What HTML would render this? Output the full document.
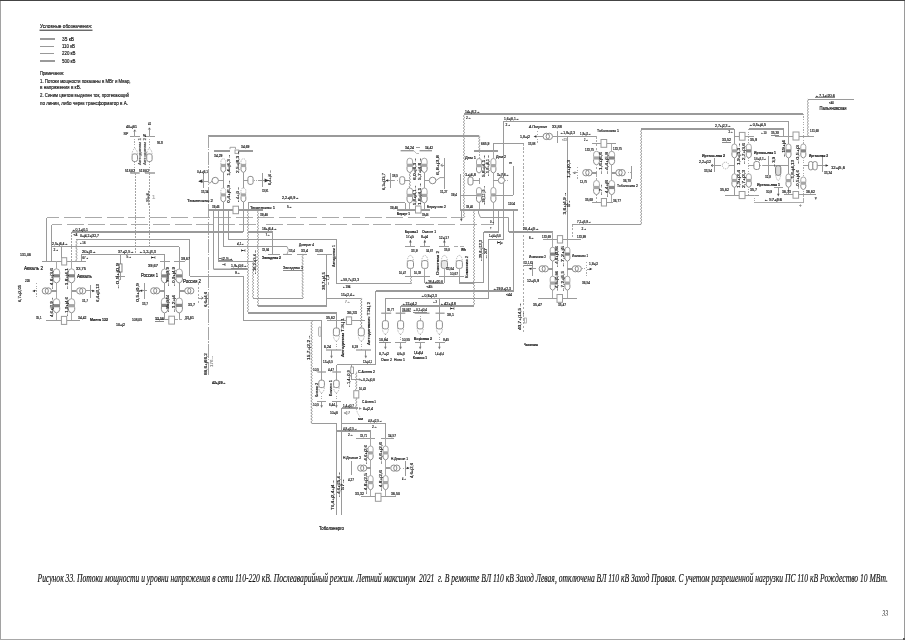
<!DOCTYPE html>
<html><head><meta charset="utf-8"><title>Рисунок 33</title>
<style>
html,body{margin:0;padding:0;background:#fff;}
body{width:905px;height:640px;overflow:hidden;font-family:"Liberation Sans",sans-serif;}
svg{display:block;filter:grayscale(100%);}
text{white-space:pre;}
</style></head><body>
<svg width="905" height="640" viewBox="0 0 905 640">
<rect x="0" y="0" width="905" height="640" fill="#fff"/>
<text x="40.00" y="28.40" font-size="5.2" fill="#1a1a1a" font-family="Liberation Sans, sans-serif" textLength="52.0" lengthAdjust="spacingAndGlyphs" stroke="#1a1a1a" stroke-width="0.18">Условные обозначения:</text>
<rect x="39.5" y="29.6" width="53" height="1.3" fill="#5a5a5a"/>
<line x1="40.00" y1="39.00" x2="55.00" y2="39.00" stroke="#9a9a9a" stroke-width="2" shape-rendering="crispEdges"/>
<text x="62.00" y="40.80" font-size="5" fill="#1a1a1a" font-family="Liberation Sans, sans-serif" textLength="12.0" lengthAdjust="spacingAndGlyphs" stroke="#1a1a1a" stroke-width="0.18">35 кВ</text>
<line x1="40.00" y1="46.50" x2="54.00" y2="46.50" stroke="#999" stroke-width="1" shape-rendering="crispEdges"/>
<text x="62.00" y="48.00" font-size="5" fill="#1a1a1a" font-family="Liberation Sans, sans-serif" textLength="13.0" lengthAdjust="spacingAndGlyphs" stroke="#1a1a1a" stroke-width="0.18">110 кВ</text>
<line x1="40.00" y1="53.50" x2="54.00" y2="53.50" stroke="#999" stroke-width="1" shape-rendering="crispEdges"/>
<text x="62.00" y="55.20" font-size="5" fill="#1a1a1a" font-family="Liberation Sans, sans-serif" textLength="13.5" lengthAdjust="spacingAndGlyphs" stroke="#1a1a1a" stroke-width="0.18">220 кВ</text>
<line x1="40.00" y1="61.00" x2="55.00" y2="61.00" stroke="#9a9a9a" stroke-width="2" shape-rendering="crispEdges"/>
<text x="62.00" y="62.50" font-size="5" fill="#1a1a1a" font-family="Liberation Sans, sans-serif" textLength="13.5" lengthAdjust="spacingAndGlyphs" stroke="#1a1a1a" stroke-width="0.18">500 кВ</text>
<text x="40.00" y="75.20" font-size="5" fill="#1a1a1a" font-family="Liberation Sans, sans-serif" textLength="24.0" lengthAdjust="spacingAndGlyphs" stroke="#1a1a1a" stroke-width="0.18">Примечания:</text>
<text x="40.00" y="82.50" font-size="5" fill="#1a1a1a" font-family="Liberation Sans, sans-serif" textLength="90.5" lengthAdjust="spacingAndGlyphs" stroke="#1a1a1a" stroke-width="0.18">1. Потоки мощности показаны в МВт и Мвар,</text>
<text x="40.00" y="89.40" font-size="5" fill="#1a1a1a" font-family="Liberation Sans, sans-serif" textLength="41.0" lengthAdjust="spacingAndGlyphs" stroke="#1a1a1a" stroke-width="0.18">в напряжения в кВ.</text>
<text x="40.00" y="96.80" font-size="5" fill="#1a1a1a" font-family="Liberation Sans, sans-serif" textLength="89.0" lengthAdjust="spacingAndGlyphs" stroke="#1a1a1a" stroke-width="0.18">2. Синим цветом выделен ток, протекающий</text>
<text x="40.00" y="105.00" font-size="5" fill="#1a1a1a" font-family="Liberation Sans, sans-serif" textLength="88.0" lengthAdjust="spacingAndGlyphs" stroke="#1a1a1a" stroke-width="0.18">по линии, либо через трансформатор в А.</text>
<text stroke="#111" stroke-width="0.18" x="37.50" y="581.60" font-size="13" fill="#111" font-family="Liberation Serif, sans-serif" textLength="850.5" lengthAdjust="spacingAndGlyphs" font-style="italic">Рисунок 33. Потоки мощности и уровни напряжения в сети 110-220 кВ. Послеаварийный режим. Летний максимум  2021  г. В ремонте ВЛ 110 кВ Заход Левая, отключена ВЛ 110 кВ Заход Правая. С учетом разрешенной нагрузки ПС 110 кВ Рождество 10 МВт.</text>
<text x="882.30" y="615.90" font-size="8.5" fill="#111" font-family="Liberation Serif, sans-serif" textLength="5.8" lengthAdjust="spacingAndGlyphs" font-style="italic">33</text>
<line x1="46.50" y1="217.50" x2="464.00" y2="217.50" stroke="#aaaaaa" stroke-width="1" stroke-dasharray="17 4.53" stroke-dashoffset="4.5" shape-rendering="crispEdges"/>
<line x1="46.50" y1="217.50" x2="46.50" y2="261.00" stroke="#9a9a9a" stroke-width="1" shape-rendering="crispEdges"/>
<line x1="51.50" y1="224.50" x2="260.00" y2="224.50" stroke="#aaaaaa" stroke-width="1" stroke-dasharray="17 4.6" stroke-dashoffset="6.5" shape-rendering="crispEdges"/>
<line x1="265.60" y1="224.50" x2="493.50" y2="224.50" stroke="#aaaaaa" stroke-width="1" stroke-dasharray="17.2 4.35" stroke-dashoffset="0" shape-rendering="crispEdges"/>
<line x1="51.50" y1="224.50" x2="51.50" y2="261.00" stroke="#9a9a9a" stroke-width="1" shape-rendering="crispEdges"/>
<polyline points="464.00,113.80 464.80,114.55 463.20,116.05 464.80,117.55 463.20,119.05 464.80,120.55 463.20,122.05 464.80,123.55 463.20,125.05 464.80,126.55 463.20,128.05 464.80,129.55 463.20,131.05 464.80,132.55 463.20,134.05 464.80,135.55 463.20,137.05 464.80,138.55 463.20,140.05 464.80,141.55 463.20,143.05 464.80,144.55 463.20,146.05 464.80,147.55 463.20,149.05 464.80,150.55 463.20,152.05 464.80,153.55 463.20,155.05 464.80,156.55 463.20,158.05 464.80,159.55 463.20,161.05 464.80,162.55 463.20,164.05 464.80,165.55 463.20,167.05 464.80,168.55 463.20,170.05 464.80,171.55 463.20,173.05 464.80,174.55 463.20,176.05 464.80,177.55 463.20,179.05 464.80,180.55 463.20,182.05 464.80,183.55 463.20,185.05 464.80,186.55 463.20,188.05 464.80,189.55 463.20,191.05 464.80,192.55 463.20,194.05 464.80,195.55 463.20,197.05 464.80,198.55 463.20,200.05 464.80,201.55 463.20,203.05 464.80,204.55 463.20,206.05 464.80,207.55 463.20,209.05 464.80,210.55 463.20,212.05 464.80,213.55 463.20,215.05 464.80,216.55 464.00,217.50" fill="none" stroke="#939393" stroke-width="0.95"/>
<line x1="464.00" y1="114.00" x2="802.70" y2="114.00" stroke="#9a9a9a" stroke-width="2" shape-rendering="crispEdges"/>
<line x1="803.50" y1="113.80" x2="803.50" y2="144.00" stroke="#aaaaaa" stroke-width="1" stroke-dasharray="1.2 1.4" shape-rendering="crispEdges"/>
<line x1="493.50" y1="210.00" x2="493.50" y2="224.50" stroke="#9a9a9a" stroke-width="1" shape-rendering="crispEdges"/>
<line x1="208.30" y1="136.00" x2="479.30" y2="136.00" stroke="#9a9a9a" stroke-width="2" shape-rendering="crispEdges"/>
<polyline points="479.30,136.00 480.10,136.75 478.50,138.25 480.10,139.75 478.50,141.25 480.10,142.75 478.50,144.25 480.10,145.75 478.50,147.25 480.10,148.75 478.50,150.25 479.30,150.70" fill="none" stroke="#939393" stroke-width="0.95"/>
<line x1="208.50" y1="136.00" x2="208.50" y2="376.30" stroke="#a4a4a4" stroke-width="1" stroke-dasharray="13.5 1.3 1.4 1.3" stroke-dashoffset="1.9" shape-rendering="crispEdges"/>
<line x1="503.40" y1="121.50" x2="788.60" y2="121.50" stroke="#9a9a9a" stroke-width="1" shape-rendering="crispEdges"/>
<line x1="503.50" y1="121.60" x2="503.50" y2="239.00" stroke="#9a9a9a" stroke-width="1" shape-rendering="crispEdges"/>
<line x1="788.50" y1="121.60" x2="788.50" y2="194.50" stroke="#9a9a9a" stroke-width="1" shape-rendering="crispEdges"/>
<line x1="641.20" y1="129.00" x2="734.40" y2="129.00" stroke="#9a9a9a" stroke-width="2" shape-rendering="crispEdges"/>
<polyline points="641.20,129.00 642.00,129.75 640.40,131.25 642.00,132.75 640.40,134.25 642.00,135.75 640.40,137.25 642.00,138.75 640.40,140.25 642.00,141.75 640.40,143.25 642.00,144.75 640.40,146.25 642.00,147.75 640.40,149.25 642.00,150.75 640.40,152.25 642.00,153.75 640.40,155.25 642.00,156.75 640.40,158.25 642.00,159.75 640.40,161.25 642.00,162.75 640.40,164.25 642.00,165.75 640.40,167.25 642.00,168.75 640.40,170.25 642.00,171.75 640.40,173.25 642.00,174.75 640.40,176.25 642.00,177.75 640.40,179.25 642.00,180.75 640.40,182.25 642.00,183.75 640.40,185.25 642.00,186.75 640.40,188.25 642.00,189.75 640.40,191.25 642.00,192.75 640.40,194.25 642.00,195.75 640.40,197.25 642.00,198.75 640.40,200.25 642.00,201.75 640.40,203.25 642.00,204.75 640.40,206.25 642.00,207.75 640.40,209.25 642.00,210.75 640.40,212.25 642.00,213.75 640.40,215.25 642.00,216.75 640.40,218.25 642.00,219.75 640.40,221.25 642.00,222.75 640.40,224.25 641.20,224.50" fill="none" stroke="#939393" stroke-width="0.95"/>
<line x1="572.30" y1="224.50" x2="641.20" y2="224.50" stroke="#9a9a9a" stroke-width="1" shape-rendering="crispEdges"/>
<line x1="572.50" y1="224.50" x2="572.50" y2="239.40" stroke="#aaaaaa" stroke-width="1" stroke-dasharray="2 1.5" shape-rendering="crispEdges"/>
<line x1="808.00" y1="99.50" x2="854.00" y2="99.50" stroke="#9a9a9a" stroke-width="1" shape-rendering="crispEdges"/>
<polyline points="807.80,99.20 808.60,99.95 807.00,101.45 808.60,102.95 807.00,104.45 808.60,105.95 807.00,107.45 808.60,108.95 807.00,110.45 808.60,111.95 807.00,113.45 808.60,114.95 807.00,116.45 808.60,117.95 807.00,119.45 808.60,120.95 807.00,122.45 808.60,123.95 807.00,125.45 808.60,126.95 807.00,128.45 808.60,129.95 807.00,131.45 808.60,132.95 807.00,134.45 808.60,135.95 807.80,136.00" fill="none" stroke="#939393" stroke-width="0.95"/>
<text x="815.00" y="96.50" font-size="4.3" fill="#1a1a1a" font-family="Liberation Sans, sans-serif" textLength="20.0" lengthAdjust="spacingAndGlyphs" stroke="#1a1a1a" stroke-width="0.2">←7,1+j20,6</text>
<line x1="815.00" y1="97.50" x2="835.00" y2="97.50" stroke="#8a8a8a" stroke-width="1" shape-rendering="crispEdges"/>
<text x="829.00" y="103.50" font-size="4.3" fill="#1a1a1a" font-family="Liberation Sans, sans-serif" textLength="5.0" lengthAdjust="spacingAndGlyphs" stroke="#1a1a1a" stroke-width="0.2">&lt;40</text>
<text x="819.50" y="109.50" font-size="4.8" fill="#1a1a1a" font-family="Liberation Sans, sans-serif" textLength="27.0" lengthAdjust="spacingAndGlyphs" stroke="#1a1a1a" stroke-width="0.2">Пальяновская</text>
<line x1="129.80" y1="136.50" x2="139.80" y2="136.50" stroke="#9a9a9a" stroke-width="1" shape-rendering="crispEdges"/>
<line x1="144.80" y1="136.50" x2="154.70" y2="136.50" stroke="#9a9a9a" stroke-width="1" shape-rendering="crispEdges"/>
<line x1="134.50" y1="130.00" x2="134.50" y2="136.20" stroke="#9a9a9a" stroke-width="1" shape-rendering="crispEdges"/>
<line x1="149.50" y1="128.00" x2="149.50" y2="136.20" stroke="#9a9a9a" stroke-width="1" shape-rendering="crispEdges"/>
<polyline points="133.80,131.60 134.80,129.80 135.80,131.60" fill="none" stroke="#555" stroke-width="0.7"/>
<polyline points="148.40,129.60 149.40,127.80 150.40,129.60" fill="none" stroke="#555" stroke-width="0.7"/>
<text x="126.00" y="128.00" font-size="4.3" fill="#1a1a1a" font-family="Liberation Sans, sans-serif" textLength="11.0" lengthAdjust="spacingAndGlyphs" stroke="#1a1a1a" stroke-width="0.2">40+j61</text>
<text x="148.00" y="124.60" font-size="4.3" fill="#1a1a1a" font-family="Liberation Sans, sans-serif" textLength="3.2" lengthAdjust="spacingAndGlyphs" stroke="#1a1a1a" stroke-width="0.2">41</text>
<text x="123.50" y="135.00" font-size="4" fill="#1a1a1a" font-family="Liberation Sans, sans-serif" textLength="4.8" lengthAdjust="spacingAndGlyphs" stroke="#1a1a1a" stroke-width="0.2">SIP</text>
<text x="143.00" y="136.80" font-size="3.5" fill="#1a1a1a" font-family="Liberation Sans, sans-serif" stroke="#1a1a1a" stroke-width="0.2">%</text>
<text x="157.00" y="143.60" font-size="4.4" fill="#1a1a1a" font-family="Liberation Sans, sans-serif" textLength="5.8" lengthAdjust="spacingAndGlyphs" stroke="#1a1a1a" stroke-width="0.2">SIJI</text>
<text x="140.90" y="165.00" font-size="3.28" fill="#555" font-family="Liberation Sans, sans-serif" textLength="27.0" lengthAdjust="spacingAndGlyphs" transform="rotate(-90 140.90 165.00)" stroke="#555" stroke-width="0.14">Автодинам 1</text>
<text x="145.50" y="165.00" font-size="3.28" fill="#555" font-family="Liberation Sans, sans-serif" textLength="27.0" lengthAdjust="spacingAndGlyphs" transform="rotate(-90 145.50 165.00)" stroke="#555" stroke-width="0.14">Автодинам 2</text>
<line x1="134.50" y1="136.20" x2="134.50" y2="148.50" stroke="#aaaaaa" stroke-width="1" stroke-dasharray="1.2 1.4" shape-rendering="crispEdges"/>
<line x1="149.50" y1="136.20" x2="149.50" y2="148.50" stroke="#aaaaaa" stroke-width="1" stroke-dasharray="1.2 1.4" shape-rendering="crispEdges"/>
<rect x="132.10" y="153.90" width="5.40" height="7.60" rx="2" fill="#fff" stroke="#8c8c8c" stroke-width="1.0"/>
<path d="M132.10,154.90 A2.70,6.2 0 0 1 137.50,154.90" fill="none" stroke="#aaaaaa" stroke-width="0.9" stroke-dasharray="1.4 1"/>
<rect x="146.70" y="153.90" width="5.40" height="7.60" rx="2" fill="#fff" stroke="#8c8c8c" stroke-width="1.0"/>
<path d="M146.70,154.90 A2.70,6.2 0 0 1 152.10,154.90" fill="none" stroke="#aaaaaa" stroke-width="0.9" stroke-dasharray="1.4 1"/>
<line x1="134.50" y1="161.50" x2="134.50" y2="173.00" stroke="#aaaaaa" stroke-width="1" stroke-dasharray="1.2 1.4" shape-rendering="crispEdges"/>
<line x1="149.50" y1="161.50" x2="149.50" y2="173.00" stroke="#aaaaaa" stroke-width="1" stroke-dasharray="1.2 1.4" shape-rendering="crispEdges"/>
<line x1="130.20" y1="173.00" x2="139.70" y2="173.00" stroke="#9a9a9a" stroke-width="1.5"/>
<line x1="145.00" y1="173.00" x2="155.00" y2="173.00" stroke="#9a9a9a" stroke-width="1.5"/>
<text x="125.00" y="171.80" font-size="4.3" fill="#1a1a1a" font-family="Liberation Sans, sans-serif" textLength="10.0" lengthAdjust="spacingAndGlyphs" stroke="#1a1a1a" stroke-width="0.2">518,62</text>
<text x="139.00" y="171.80" font-size="4.3" fill="#1a1a1a" font-family="Liberation Sans, sans-serif" textLength="10.0" lengthAdjust="spacingAndGlyphs" stroke="#1a1a1a" stroke-width="0.2">519,62</text>
<line x1="135.50" y1="173.00" x2="135.50" y2="254.30" stroke="#a2a2a2" stroke-width="1" stroke-dasharray="1.5 1.5" shape-rendering="crispEdges"/>
<line x1="149.50" y1="173.00" x2="149.50" y2="246.60" stroke="#a2a2a2" stroke-width="1" stroke-dasharray="1.5 1.5" shape-rendering="crispEdges"/>
<text x="148.80" y="205.00" font-size="2.952" fill="#1a1a1a" font-family="Liberation Sans, sans-serif" textLength="15.0" lengthAdjust="spacingAndGlyphs" transform="rotate(-90 148.80 205.00)" stroke="#1a1a1a" stroke-width="0.14">←95+j4→</text>
<text x="152.00" y="198.50" font-size="6" fill="#aaa" font-family="Liberation Sans, sans-serif" stroke="#aaa" stroke-width="0.18">1</text>
<line x1="214.40" y1="151.00" x2="229.60" y2="151.00" stroke="#9a9a9a" stroke-width="2" shape-rendering="crispEdges"/>
<polyline points="230.00,149.20 230.00,147.30 235.50,147.30 235.50,149.20" fill="none" stroke="#9a9a9a" stroke-width="0.9"/>
<rect x="235.00" y="150.00" width="3.70" height="3.40" rx="0" fill="#fff" stroke="#9a9a9a" stroke-width="0.9"/>
<line x1="238.70" y1="151.00" x2="253.00" y2="151.00" stroke="#9a9a9a" stroke-width="2" shape-rendering="crispEdges"/>
<text x="241.00" y="148.20" font-size="4.3" fill="#1a1a1a" font-family="Liberation Sans, sans-serif" textLength="8.5" lengthAdjust="spacingAndGlyphs" stroke="#1a1a1a" stroke-width="0.2">34,69</text>
<text x="214.00" y="157.00" font-size="4.3" fill="#1a1a1a" font-family="Liberation Sans, sans-serif" textLength="8.5" lengthAdjust="spacingAndGlyphs" stroke="#1a1a1a" stroke-width="0.2">34,29</text>
<line x1="223.50" y1="171.00" x2="223.50" y2="209.80" stroke="#9a9a9a" stroke-width="1" shape-rendering="crispEdges"/>
<rect x="220.90" y="158.80" width="4.80" height="13.60" rx="2.40" fill="#fff"/>
<path d="M220.90,164.10 V161.20 A2.40,2.40 0 0 1 225.70,161.20 V164.10" fill="none" stroke="#aaaaaa" stroke-width="0.9" stroke-dasharray="1.3 0.9"/>
<rect x="220.60" y="163.90" width="5.40" height="3.2" fill="#a6a6a6"/>
<path d="M220.90,167.10 V169.70 Q220.90,171.60 223.30,172.40 Q225.70,171.60 225.70,169.70 V167.10" fill="none" stroke="#8c8c8c" stroke-width="1"/>
<rect x="220.90" y="188.00" width="4.80" height="14.00" rx="2.40" fill="#fff"/>
<path d="M220.90,193.50 V190.40 A2.40,2.40 0 0 1 225.70,190.40 V193.50" fill="none" stroke="#aaaaaa" stroke-width="0.9" stroke-dasharray="1.3 0.9"/>
<rect x="220.60" y="193.30" width="5.40" height="3.2" fill="#a6a6a6"/>
<path d="M220.90,196.50 V199.30 Q220.90,201.20 223.30,202.00 Q225.70,201.20 225.70,199.30 V196.50" fill="none" stroke="#8c8c8c" stroke-width="1"/>
<line x1="243.50" y1="171.00" x2="243.50" y2="209.80" stroke="#9a9a9a" stroke-width="1" shape-rendering="crispEdges"/>
<rect x="241.00" y="158.80" width="4.80" height="13.60" rx="2.40" fill="#fff"/>
<path d="M241.00,164.10 V161.20 A2.40,2.40 0 0 1 245.80,161.20 V164.10" fill="none" stroke="#aaaaaa" stroke-width="0.9" stroke-dasharray="1.3 0.9"/>
<rect x="240.70" y="163.90" width="5.40" height="3.2" fill="#a6a6a6"/>
<path d="M241.00,167.10 V169.70 Q241.00,171.60 243.40,172.40 Q245.80,171.60 245.80,169.70 V167.10" fill="none" stroke="#8c8c8c" stroke-width="1"/>
<rect x="241.00" y="188.00" width="4.80" height="14.00" rx="2.40" fill="#fff"/>
<path d="M241.00,193.50 V190.40 A2.40,2.40 0 0 1 245.80,190.40 V193.50" fill="none" stroke="#aaaaaa" stroke-width="0.9" stroke-dasharray="1.3 0.9"/>
<rect x="240.70" y="193.30" width="5.40" height="3.2" fill="#a6a6a6"/>
<path d="M241.00,196.50 V199.30 Q241.00,201.20 243.40,202.00 Q245.80,201.20 245.80,199.30 V196.50" fill="none" stroke="#8c8c8c" stroke-width="1"/>
<text x="229.80" y="175.50" font-size="3.28" fill="#1a1a1a" font-family="Liberation Sans, sans-serif" textLength="21.0" lengthAdjust="spacingAndGlyphs" transform="rotate(-90 229.80 175.50)" stroke="#1a1a1a" stroke-width="0.14">1,4+j6,3→</text>
<text x="229.80" y="203.00" font-size="3.28" fill="#1a1a1a" font-family="Liberation Sans, sans-serif" textLength="23.0" lengthAdjust="spacingAndGlyphs" transform="rotate(-90 229.80 203.00)" stroke="#1a1a1a" stroke-width="0.14">0,4+j6,9→</text>
<text x="239.30" y="173.00" font-size="3.28" fill="#1a1a1a" font-family="Liberation Sans, sans-serif" textLength="22.0" lengthAdjust="spacingAndGlyphs" transform="rotate(-90 239.30 173.00)" stroke="#1a1a1a" stroke-width="0.14">2,5+j8,3→</text>
<text x="238.50" y="203.00" font-size="3.28" fill="#1a1a1a" font-family="Liberation Sans, sans-serif" textLength="16.0" lengthAdjust="spacingAndGlyphs" transform="rotate(-90 238.50 203.00)" stroke="#1a1a1a" stroke-width="0.14">←4+j3→</text>
<line x1="218.40" y1="180.50" x2="223.30" y2="180.50" stroke="#9a9a9a" stroke-width="1" shape-rendering="crispEdges"/>
<ellipse cx="215.20" cy="180.50" rx="3.2" ry="3.2" fill="#fff" stroke="#8c8c8c" stroke-width="1.0"/>
<polyline points="212.00,180.80 210.30,183.00 208.60,183.00" fill="none" stroke="#9a9a9a" stroke-width="1.0"/>
<line x1="199.00" y1="181.50" x2="208.00" y2="181.50" stroke="#9a9a9a" stroke-width="1" shape-rendering="crispEdges"/>
<path d="M198.20,181.20 l4.2,-1.89 v3.78z" fill="#333"/>
<line x1="203.50" y1="173.00" x2="203.50" y2="188.00" stroke="#9a9a9a" stroke-width="1" shape-rendering="crispEdges"/>
<text x="197.00" y="172.80" font-size="4.3" fill="#1a1a1a" font-family="Liberation Sans, sans-serif" textLength="11.0" lengthAdjust="spacingAndGlyphs" stroke="#1a1a1a" stroke-width="0.2">0,4+j6,1</text>
<text x="201.00" y="192.60" font-size="4.3" fill="#1a1a1a" font-family="Liberation Sans, sans-serif" textLength="7.5" lengthAdjust="spacingAndGlyphs" stroke="#1a1a1a" stroke-width="0.2">33,34</text>
<text x="187.00" y="201.50" font-size="4.4" fill="#1a1a1a" font-family="Liberation Sans, sans-serif" textLength="26.0" lengthAdjust="spacingAndGlyphs" stroke="#1a1a1a" stroke-width="0.2">Тюменская 2</text>
<line x1="243.40" y1="180.50" x2="248.00" y2="180.50" stroke="#9a9a9a" stroke-width="1" shape-rendering="crispEdges"/>
<rect x="247.90" y="176.40" width="5.20" height="8.00" rx="2" fill="#fff" stroke="#8c8c8c" stroke-width="1.0"/>
<line x1="253.50" y1="180.50" x2="257.50" y2="180.50" stroke="#aaaaaa" stroke-width="1" stroke-dasharray="1.2 1.4" shape-rendering="crispEdges"/>
<line x1="262.50" y1="173.00" x2="262.50" y2="187.00" stroke="#9a9a9a" stroke-width="1" shape-rendering="crispEdges"/>
<line x1="257.50" y1="180.50" x2="268.00" y2="180.50" stroke="#9a9a9a" stroke-width="1" shape-rendering="crispEdges"/>
<path d="M268.80,180.50 l-4.2,-1.89 v3.78z" fill="#333"/>
<text x="271.00" y="185.00" font-size="3.1159999999999997" fill="#1a1a1a" font-family="Liberation Sans, sans-serif" textLength="15.0" lengthAdjust="spacingAndGlyphs" transform="rotate(-90 271.00 185.00)" stroke="#1a1a1a" stroke-width="0.14">6,4+j4→</text>
<text x="262.00" y="192.00" font-size="4.3" fill="#1a1a1a" font-family="Liberation Sans, sans-serif" textLength="6.5" lengthAdjust="spacingAndGlyphs" stroke="#1a1a1a" stroke-width="0.2">33,91</text>
<line x1="208.30" y1="210.00" x2="233.00" y2="210.00" stroke="#9a9a9a" stroke-width="2" shape-rendering="crispEdges"/>
<rect x="233.00" y="206.20" width="5.50" height="7.50" rx="0" fill="#fff" stroke="#9a9a9a" stroke-width="1.0"/>
<line x1="238.50" y1="210.00" x2="263.00" y2="210.00" stroke="#9a9a9a" stroke-width="2" shape-rendering="crispEdges"/>
<text x="212.00" y="208.00" font-size="4.3" fill="#1a1a1a" font-family="Liberation Sans, sans-serif" textLength="7.5" lengthAdjust="spacingAndGlyphs" stroke="#1a1a1a" stroke-width="0.2">39,46</text>
<text x="260.00" y="216.00" font-size="4.3" fill="#1a1a1a" font-family="Liberation Sans, sans-serif" textLength="8.0" lengthAdjust="spacingAndGlyphs" stroke="#1a1a1a" stroke-width="0.2">39,46</text>
<text x="250.00" y="208.50" font-size="4.4" fill="#1a1a1a" font-family="Liberation Sans, sans-serif" textLength="25.0" lengthAdjust="spacingAndGlyphs" stroke="#1a1a1a" stroke-width="0.2">Тюменская 1</text>
<line x1="248.00" y1="202.50" x2="405.20" y2="202.50" stroke="#9a9a9a" stroke-width="1" shape-rendering="crispEdges"/>
<line x1="248.50" y1="202.60" x2="248.50" y2="209.80" stroke="#9a9a9a" stroke-width="1" shape-rendering="crispEdges"/>
<line x1="405.50" y1="202.60" x2="405.50" y2="209.50" stroke="#9a9a9a" stroke-width="1" shape-rendering="crispEdges"/>
<text x="282.00" y="199.30" font-size="4.3" fill="#1a1a1a" font-family="Liberation Sans, sans-serif" textLength="17.0" lengthAdjust="spacingAndGlyphs" stroke="#1a1a1a" stroke-width="0.2">2,2+j6,9→</text>
<text x="287.00" y="208.00" font-size="4.3" fill="#1a1a1a" font-family="Liberation Sans, sans-serif" textLength="5.0" lengthAdjust="spacingAndGlyphs" stroke="#1a1a1a" stroke-width="0.2">5→</text>
<line x1="400.60" y1="150.70" x2="413.80" y2="150.70" stroke="#9a9a9a" stroke-width="1.4"/>
<line x1="419.60" y1="150.70" x2="432.00" y2="150.70" stroke="#9a9a9a" stroke-width="1.4"/>
<line x1="415.50" y1="147.50" x2="419.60" y2="147.50" stroke="#9a9a9a" stroke-width="1" shape-rendering="crispEdges"/>
<polyline points="413.80,150.70 416.50,153.50 419.00,153.50" fill="none" stroke="#aaaaaa" stroke-width="0.8"/>
<text x="405.00" y="149.30" font-size="4.3" fill="#1a1a1a" font-family="Liberation Sans, sans-serif" textLength="9.0" lengthAdjust="spacingAndGlyphs" stroke="#1a1a1a" stroke-width="0.2">34,24</text>
<text x="425.00" y="149.30" font-size="4.3" fill="#1a1a1a" font-family="Liberation Sans, sans-serif" textLength="8.0" lengthAdjust="spacingAndGlyphs" stroke="#1a1a1a" stroke-width="0.2">34,42</text>
<polyline points="409.80,172.50 410.60,173.25 409.00,174.75 410.60,176.25 409.00,177.75 410.60,179.25 409.00,180.75 410.60,182.25 409.00,183.75 410.60,185.25 409.00,186.75 409.80,188.00" fill="none" stroke="#939393" stroke-width="0.95"/>
<line x1="409.50" y1="202.50" x2="409.50" y2="209.50" stroke="#aaaaaa" stroke-width="1" shape-rendering="crispEdges"/>
<line x1="424.50" y1="172.50" x2="424.50" y2="209.50" stroke="#9a9a9a" stroke-width="1" shape-rendering="crispEdges"/>
<rect x="407.00" y="158.20" width="5.60" height="14.40" rx="2.80" fill="#fff"/>
<path d="M407.00,163.90 V161.00 A2.80,2.80 0 0 1 412.60,161.00 V163.90" fill="none" stroke="#9c9c9c" stroke-width="0.9"/>
<rect x="406.70" y="163.70" width="6.20" height="3.2" fill="#a6a6a6"/>
<path d="M407.00,166.90 V169.50 Q407.00,171.80 409.80,172.60 Q412.60,171.80 412.60,169.50 V166.90" fill="none" stroke="#8c8c8c" stroke-width="1"/>
<rect x="407.00" y="188.00" width="5.60" height="15.00" rx="2.80" fill="#fff"/>
<path d="M407.00,194.00 V190.80 A2.80,2.80 0 0 1 412.60,190.80 V194.00" fill="none" stroke="#9c9c9c" stroke-width="0.9"/>
<rect x="406.70" y="193.80" width="6.20" height="3.2" fill="#a6a6a6"/>
<path d="M407.00,197.00 V199.90 Q407.00,202.20 409.80,203.00 Q412.60,202.20 412.60,199.90 V197.00" fill="none" stroke="#8c8c8c" stroke-width="1"/>
<rect x="421.50" y="158.20" width="5.60" height="14.40" rx="2.80" fill="#fff"/>
<path d="M421.50,163.90 V161.00 A2.80,2.80 0 0 1 427.10,161.00 V163.90" fill="none" stroke="#9c9c9c" stroke-width="0.9"/>
<rect x="421.20" y="163.70" width="6.20" height="3.2" fill="#a6a6a6"/>
<path d="M421.50,166.90 V169.50 Q421.50,171.80 424.30,172.60 Q427.10,171.80 427.10,169.50 V166.90" fill="none" stroke="#8c8c8c" stroke-width="1"/>
<rect x="421.50" y="188.00" width="5.60" height="15.00" rx="2.80" fill="#fff"/>
<path d="M421.50,194.00 V190.80 A2.80,2.80 0 0 1 427.10,190.80 V194.00" fill="none" stroke="#9c9c9c" stroke-width="0.9"/>
<rect x="421.20" y="193.80" width="6.20" height="3.2" fill="#a6a6a6"/>
<path d="M421.50,197.00 V199.90 Q421.50,202.20 424.30,203.00 Q427.10,202.20 427.10,199.90 V197.00" fill="none" stroke="#8c8c8c" stroke-width="1"/>
<text x="415.90" y="180.00" font-size="3.28" fill="#1a1a1a" font-family="Liberation Sans, sans-serif" textLength="22.0" lengthAdjust="spacingAndGlyphs" transform="rotate(-90 415.90 180.00)" stroke="#1a1a1a" stroke-width="0.14">6,0+j6,3→</text>
<text x="421.30" y="180.00" font-size="3.28" fill="#1a1a1a" font-family="Liberation Sans, sans-serif" textLength="22.0" lengthAdjust="spacingAndGlyphs" transform="rotate(-90 421.30 180.00)" stroke="#1a1a1a" stroke-width="0.14">5,7+j4,8→</text>
<text x="415.90" y="205.00" font-size="3.28" fill="#1a1a1a" font-family="Liberation Sans, sans-serif" textLength="20.0" lengthAdjust="spacingAndGlyphs" transform="rotate(-90 415.90 205.00)" stroke="#1a1a1a" stroke-width="0.14">5,8+j4,1→</text>
<text x="421.30" y="205.00" font-size="3.28" fill="#1a1a1a" font-family="Liberation Sans, sans-serif" textLength="22.0" lengthAdjust="spacingAndGlyphs" transform="rotate(-90 421.30 205.00)" stroke="#1a1a1a" stroke-width="0.14">1,8+j4,1→</text>
<line x1="404.70" y1="180.50" x2="409.80" y2="180.50" stroke="#9a9a9a" stroke-width="1" shape-rendering="crispEdges"/>
<rect x="399.70" y="176.70" width="5.00" height="7.60" rx="2" fill="#fff" stroke="#8c8c8c" stroke-width="1.0"/>
<line x1="394.00" y1="180.50" x2="399.70" y2="180.50" stroke="#aaaaaa" stroke-width="1" stroke-dasharray="1.2 1.4" shape-rendering="crispEdges"/>
<line x1="390.50" y1="173.00" x2="390.50" y2="187.70" stroke="#9a9a9a" stroke-width="1" shape-rendering="crispEdges"/>
<line x1="386.00" y1="180.50" x2="394.00" y2="180.50" stroke="#9a9a9a" stroke-width="1" shape-rendering="crispEdges"/>
<path d="M385.40,180.50 l2.8,-1.26 v2.52z" fill="#333"/>
<text x="384.50" y="190.00" font-size="3.1159999999999997" fill="#1a1a1a" font-family="Liberation Sans, sans-serif" textLength="17.0" lengthAdjust="spacingAndGlyphs" transform="rotate(-90 384.50 190.00)" stroke="#1a1a1a" stroke-width="0.14">6,3+j13,7</text>
<text x="392.00" y="176.60" font-size="4.3" fill="#1a1a1a" font-family="Liberation Sans, sans-serif" textLength="6.0" lengthAdjust="spacingAndGlyphs" stroke="#1a1a1a" stroke-width="0.2">38,5</text>
<line x1="424.30" y1="180.50" x2="429.30" y2="180.50" stroke="#9a9a9a" stroke-width="1" shape-rendering="crispEdges"/>
<ellipse cx="432.60" cy="180.50" rx="3.3" ry="3.3" fill="#fff" stroke="#8c8c8c" stroke-width="1.0"/>
<polyline points="436.00,180.50 440.00,177.60 444.50,177.60" fill="none" stroke="#9a9a9a" stroke-width="1.0"/>
<line x1="444.50" y1="158.00" x2="444.50" y2="189.00" stroke="#9a9a9a" stroke-width="1" shape-rendering="crispEdges"/>
<line x1="441.50" y1="165.50" x2="444.50" y2="165.50" stroke="#9a9a9a" stroke-width="1" shape-rendering="crispEdges"/>
<polyline points="442.60,164.00 440.80,165.30 442.60,166.60" fill="none" stroke="#444" stroke-width="0.7"/>
<text x="438.90" y="175.00" font-size="3.1159999999999997" fill="#1a1a1a" font-family="Liberation Sans, sans-serif" textLength="20.0" lengthAdjust="spacingAndGlyphs" transform="rotate(-90 438.90 175.00)" stroke="#1a1a1a" stroke-width="0.14">6,8+j3,8</text>
<text x="440.00" y="193.00" font-size="4.3" fill="#1a1a1a" font-family="Liberation Sans, sans-serif" textLength="7.5" lengthAdjust="spacingAndGlyphs" stroke="#1a1a1a" stroke-width="0.2">31,27</text>
<line x1="397.00" y1="210.00" x2="415.50" y2="210.00" stroke="#9a9a9a" stroke-width="2" shape-rendering="crispEdges"/>
<rect x="415.50" y="206.00" width="5.50" height="7.00" rx="0" fill="#fff" stroke="#9a9a9a" stroke-width="1.0"/>
<line x1="421.00" y1="210.00" x2="429.60" y2="210.00" stroke="#9a9a9a" stroke-width="2" shape-rendering="crispEdges"/>
<text x="390.00" y="209.00" font-size="4.3" fill="#1a1a1a" font-family="Liberation Sans, sans-serif" textLength="8.0" lengthAdjust="spacingAndGlyphs" stroke="#1a1a1a" stroke-width="0.2">39,46</text>
<text x="397.00" y="214.80" font-size="4.2" fill="#1a1a1a" font-family="Liberation Sans, sans-serif" textLength="13.0" lengthAdjust="spacingAndGlyphs" font-weight="bold" stroke="#1a1a1a" stroke-width="0.2">Беркут 1</text>
<text x="422.00" y="215.50" font-size="4.3" fill="#1a1a1a" font-family="Liberation Sans, sans-serif" textLength="6.5" lengthAdjust="spacingAndGlyphs" stroke="#1a1a1a" stroke-width="0.2">39,46</text>
<text x="427.00" y="208.00" font-size="4.4" fill="#1a1a1a" font-family="Liberation Sans, sans-serif" textLength="19.0" lengthAdjust="spacingAndGlyphs" stroke="#1a1a1a" stroke-width="0.2">Беркутовс 2</text>
<text x="465.00" y="113.00" font-size="4.3" fill="#1a1a1a" font-family="Liberation Sans, sans-serif" textLength="15.0" lengthAdjust="spacingAndGlyphs" stroke="#1a1a1a" stroke-width="0.2">14+j8,2→</text>
<text x="466.00" y="118.60" font-size="4" fill="#1a1a1a" font-family="Liberation Sans, sans-serif" textLength="5.0" lengthAdjust="spacingAndGlyphs" stroke="#1a1a1a" stroke-width="0.2">2→</text>
<text x="504.00" y="120.20" font-size="4.3" fill="#1a1a1a" font-family="Liberation Sans, sans-serif" textLength="15.0" lengthAdjust="spacingAndGlyphs" stroke="#1a1a1a" stroke-width="0.2">1,6+j6,1→</text>
<text x="505.50" y="126.00" font-size="4" fill="#1a1a1a" font-family="Liberation Sans, sans-serif" textLength="5.0" lengthAdjust="spacingAndGlyphs" stroke="#1a1a1a" stroke-width="0.2">2→</text>
<line x1="493.40" y1="143.50" x2="523.80" y2="143.50" stroke="#9a9a9a" stroke-width="1" shape-rendering="crispEdges"/>
<line x1="493.50" y1="143.60" x2="493.50" y2="158.50" stroke="#9a9a9a" stroke-width="1" shape-rendering="crispEdges"/>
<line x1="523.50" y1="143.60" x2="523.50" y2="333.80" stroke="#aaaaaa" stroke-width="1" stroke-dasharray="2.2 1.6" shape-rendering="crispEdges"/>
<line x1="474.00" y1="151.00" x2="498.00" y2="151.00" stroke="#9a9a9a" stroke-width="2" shape-rendering="crispEdges"/>
<text x="481.00" y="145.00" font-size="4.3" fill="#1a1a1a" font-family="Liberation Sans, sans-serif" textLength="8.5" lengthAdjust="spacingAndGlyphs" stroke="#1a1a1a" stroke-width="0.2">665,9</text>
<text x="465.00" y="158.50" font-size="4.3" fill="#1a1a1a" font-family="Liberation Sans, sans-serif" textLength="11.0" lengthAdjust="spacingAndGlyphs" stroke="#1a1a1a" stroke-width="0.2">Дем 1</text>
<text x="496.00" y="158.00" font-size="4.3" fill="#1a1a1a" font-family="Liberation Sans, sans-serif" textLength="10.0" lengthAdjust="spacingAndGlyphs" stroke="#1a1a1a" stroke-width="0.2">Дем 2</text>
<text x="509.00" y="163.50" font-size="4" fill="#1a1a1a" font-family="Liberation Sans, sans-serif" stroke="#1a1a1a" stroke-width="0.2">∞</text>
<line x1="479.50" y1="151.00" x2="479.50" y2="158.50" stroke="#aaaaaa" stroke-width="1" stroke-dasharray="1.5 1.5" shape-rendering="crispEdges"/>
<line x1="493.50" y1="151.00" x2="493.50" y2="210.00" stroke="#aaaaaa" stroke-width="1" shape-rendering="crispEdges"/>
<line x1="479.50" y1="177.50" x2="479.50" y2="183.50" stroke="#9a9a9a" stroke-width="1" shape-rendering="crispEdges"/>
<line x1="479.50" y1="195.30" x2="479.50" y2="210.00" stroke="#aaaaaa" stroke-width="1" shape-rendering="crispEdges"/>
<rect x="476.50" y="158.50" width="5.00" height="14.50" rx="2.50" fill="#fff"/>
<path d="M476.50,164.25 V161.00 A2.50,2.50 0 0 1 481.50,161.00 V164.25" fill="none" stroke="#9c9c9c" stroke-width="0.9"/>
<rect x="476.20" y="164.05" width="5.60" height="3.2" fill="#a6a6a6"/>
<path d="M476.50,167.25 V170.20 Q476.50,172.20 479.00,173.00 Q481.50,172.20 481.50,170.20 V167.25" fill="none" stroke="#8c8c8c" stroke-width="1"/>
<rect x="476.50" y="187.50" width="5.00" height="15.00" rx="2.50" fill="#fff"/>
<path d="M476.50,193.50 V190.00 A2.50,2.50 0 0 1 481.50,190.00 V193.50" fill="none" stroke="#9c9c9c" stroke-width="0.9"/>
<rect x="476.20" y="193.30" width="5.60" height="3.2" fill="#a6a6a6"/>
<path d="M476.50,196.50 V199.70 Q476.50,201.70 479.00,202.50 Q481.50,201.70 481.50,199.70 V196.50" fill="none" stroke="#8c8c8c" stroke-width="1"/>
<rect x="490.90" y="158.50" width="5.00" height="14.50" rx="2.50" fill="#fff"/>
<path d="M490.90,164.25 V161.00 A2.50,2.50 0 0 1 495.90,161.00 V164.25" fill="none" stroke="#9c9c9c" stroke-width="0.9"/>
<rect x="490.60" y="164.05" width="5.60" height="3.2" fill="#a6a6a6"/>
<path d="M490.90,167.25 V170.20 Q490.90,172.20 493.40,173.00 Q495.90,172.20 495.90,170.20 V167.25" fill="none" stroke="#8c8c8c" stroke-width="1"/>
<rect x="490.90" y="187.50" width="5.00" height="15.00" rx="2.50" fill="#fff"/>
<path d="M490.90,193.50 V190.00 A2.50,2.50 0 0 1 495.90,190.00 V193.50" fill="none" stroke="#9c9c9c" stroke-width="0.9"/>
<rect x="490.60" y="193.30" width="5.60" height="3.2" fill="#a6a6a6"/>
<path d="M490.90,196.50 V199.70 Q490.90,201.70 493.40,202.50 Q495.90,201.70 495.90,199.70 V196.50" fill="none" stroke="#8c8c8c" stroke-width="1"/>
<text x="484.80" y="177.00" font-size="3.28" fill="#1a1a1a" font-family="Liberation Sans, sans-serif" textLength="22.0" lengthAdjust="spacingAndGlyphs" transform="rotate(-90 484.80 177.00)" stroke="#1a1a1a" stroke-width="0.14">5,8+j4,1→</text>
<text x="488.50" y="177.00" font-size="3.28" fill="#1a1a1a" font-family="Liberation Sans, sans-serif" textLength="22.0" lengthAdjust="spacingAndGlyphs" transform="rotate(-90 488.50 177.00)" stroke="#1a1a1a" stroke-width="0.14">←5,8+j4,1→</text>
<text x="484.50" y="206.00" font-size="3.28" fill="#1a1a1a" font-family="Liberation Sans, sans-serif" textLength="20.0" lengthAdjust="spacingAndGlyphs" transform="rotate(-90 484.50 206.00)" stroke="#1a1a1a" stroke-width="0.14">→39,12 j3→</text>
<line x1="473.00" y1="180.50" x2="479.00" y2="180.50" stroke="#9a9a9a" stroke-width="1" shape-rendering="crispEdges"/>
<rect x="468.00" y="177.00" width="5.00" height="8.00" rx="2" fill="#fff" stroke="#8c8c8c" stroke-width="1.0"/>
<text x="465.00" y="175.80" font-size="4.3" fill="#1a1a1a" font-family="Liberation Sans, sans-serif" textLength="11.0" lengthAdjust="spacingAndGlyphs" stroke="#1a1a1a" stroke-width="0.2">1+j4,8</text>
<line x1="460.50" y1="173.80" x2="460.50" y2="210.00" stroke="#9a9a9a" stroke-width="1" shape-rendering="crispEdges"/>
<line x1="493.40" y1="180.50" x2="498.20" y2="180.50" stroke="#9a9a9a" stroke-width="1" shape-rendering="crispEdges"/>
<ellipse cx="501.40" cy="180.40" rx="3.1" ry="3.1" fill="#fff" stroke="#8c8c8c" stroke-width="1.0"/>
<line x1="504.60" y1="180.50" x2="508.50" y2="180.50" stroke="#aaaaaa" stroke-width="1" stroke-dasharray="1.2 1.4" shape-rendering="crispEdges"/>
<text x="497.00" y="175.80" font-size="4.3" fill="#1a1a1a" font-family="Liberation Sans, sans-serif" textLength="12.0" lengthAdjust="spacingAndGlyphs" stroke="#1a1a1a" stroke-width="0.2">3+j7,6→</text>
<line x1="513.50" y1="166.30" x2="513.50" y2="195.30" stroke="#9a9a9a" stroke-width="1" shape-rendering="crispEdges"/>
<line x1="460.30" y1="195.50" x2="479.00" y2="195.50" stroke="#9a9a9a" stroke-width="1" shape-rendering="crispEdges"/>
<line x1="493.40" y1="195.50" x2="513.30" y2="195.50" stroke="#9a9a9a" stroke-width="1" shape-rendering="crispEdges"/>
<text x="451.00" y="196.00" font-size="4.3" fill="#1a1a1a" font-family="Liberation Sans, sans-serif" textLength="6.0" lengthAdjust="spacingAndGlyphs" stroke="#1a1a1a" stroke-width="0.2">39,4</text>
<line x1="459.60" y1="210.00" x2="518.00" y2="210.00" stroke="#9a9a9a" stroke-width="2" shape-rendering="crispEdges"/>
<text x="466.00" y="208.30" font-size="4.3" fill="#1a1a1a" font-family="Liberation Sans, sans-serif" textLength="7.0" lengthAdjust="spacingAndGlyphs" stroke="#1a1a1a" stroke-width="0.2">39,46</text>
<text x="508.00" y="205.00" font-size="4.3" fill="#1a1a1a" font-family="Liberation Sans, sans-serif" textLength="7.0" lengthAdjust="spacingAndGlyphs" stroke="#1a1a1a" stroke-width="0.2">1104</text>
<polyline points="478.50,210.00 478.50,213.00 480.50,217.50 508.50,217.50 508.50,232.00" fill="none" stroke="#9a9a9a" stroke-width="1.0"/>
<line x1="508.50" y1="232.00" x2="552.70" y2="232.00" stroke="#9a9a9a" stroke-width="2" shape-rendering="crispEdges"/>
<line x1="498.50" y1="210.00" x2="498.50" y2="232.00" stroke="#9a9a9a" stroke-width="1" shape-rendering="crispEdges"/>
<line x1="483.50" y1="232.00" x2="498.50" y2="232.00" stroke="#9a9a9a" stroke-width="2" shape-rendering="crispEdges"/>
<line x1="483.50" y1="232.00" x2="483.50" y2="282.90" stroke="#9a9a9a" stroke-width="1" shape-rendering="crispEdges"/>
<line x1="459.60" y1="282.50" x2="483.50" y2="282.50" stroke="#9a9a9a" stroke-width="1" shape-rendering="crispEdges"/>
<line x1="459.50" y1="268.00" x2="459.50" y2="282.90" stroke="#9a9a9a" stroke-width="1" shape-rendering="crispEdges"/>
<line x1="488.50" y1="239.50" x2="503.50" y2="239.50" stroke="#9a9a9a" stroke-width="1" shape-rendering="crispEdges"/>
<line x1="488.50" y1="239.00" x2="488.50" y2="298.50" stroke="#9a9a9a" stroke-width="1" shape-rendering="crispEdges"/>
<line x1="385.40" y1="298.50" x2="488.50" y2="298.50" stroke="#9a9a9a" stroke-width="1" shape-rendering="crispEdges"/>
<line x1="513.50" y1="210.00" x2="513.50" y2="290.80" stroke="#9a9a9a" stroke-width="1" shape-rendering="crispEdges"/>
<polyline points="474.00,210.00 474.80,210.75 473.20,212.25 474.80,213.75 473.20,215.25 474.80,216.75 473.20,218.25 474.80,219.75 473.20,221.25 474.80,222.75 473.20,224.25 474.80,225.75 473.20,227.25 474.80,228.75 473.20,230.25 474.80,231.75 473.20,233.25 474.80,234.75 473.20,236.25 474.80,237.75 473.20,239.25 474.80,240.75 473.20,242.25 474.80,243.75 473.20,245.25 474.80,246.75 473.20,248.25 474.80,249.75 473.20,251.25 474.80,252.75 473.20,254.25 474.80,255.75 473.20,257.25 474.80,258.75 473.20,260.25 474.80,261.75 473.20,263.25 474.80,264.75 473.20,266.25 474.80,267.75 473.20,269.25 474.80,270.75 473.20,272.25 474.80,273.75 473.20,275.25 474.80,276.75 473.20,278.25 474.80,279.75 473.20,281.25 474.80,282.75 473.20,284.25 474.80,285.75 473.20,287.25 474.80,288.75 473.20,290.25 474.80,291.75 473.20,293.25 474.80,294.75 473.20,296.25 474.80,297.75 473.20,299.25 474.80,300.75 473.20,302.25 474.80,303.75 473.20,305.25 474.00,306.00" fill="none" stroke="#939393" stroke-width="0.95"/>
<line x1="461.50" y1="210.00" x2="461.50" y2="220.00" stroke="#9a9a9a" stroke-width="1" shape-rendering="crispEdges"/>
<path d="M461.30,221.50 l-1.26,-2.8 h2.52z" fill="#555"/>
<text x="490.00" y="223.20" font-size="3.6" fill="#1a1a1a" font-family="Liberation Sans, sans-serif" textLength="4.0" lengthAdjust="spacingAndGlyphs" stroke="#1a1a1a" stroke-width="0.2">0→</text>
<text x="490.00" y="229.00" font-size="3.6" fill="#1a1a1a" font-family="Liberation Sans, sans-serif" stroke="#1a1a1a" stroke-width="0.2">↑</text>
<text x="489.00" y="236.60" font-size="4.3" fill="#1a1a1a" font-family="Liberation Sans, sans-serif" textLength="12.0" lengthAdjust="spacingAndGlyphs" stroke="#1a1a1a" stroke-width="0.2">1+j4+j5,6</text>
<text x="497.00" y="244.00" font-size="4" fill="#1a1a1a" font-family="Liberation Sans, sans-serif" textLength="5.5" lengthAdjust="spacingAndGlyphs" stroke="#1a1a1a" stroke-width="0.2">⊢▷</text>
<text x="481.90" y="262.00" font-size="3.28" fill="#1a1a1a" font-family="Liberation Sans, sans-serif" textLength="22.0" lengthAdjust="spacingAndGlyphs" transform="rotate(-90 481.90 262.00)" stroke="#1a1a1a" stroke-width="0.14">←39,8+j13,3</text>
<text x="487.10" y="260.00" font-size="3.28" fill="#1a1a1a" font-family="Liberation Sans, sans-serif" textLength="12.0" lengthAdjust="spacingAndGlyphs" transform="rotate(-90 487.10 260.00)" stroke="#1a1a1a" stroke-width="0.14">←37</text>
<text x="523.00" y="229.50" font-size="4.3" fill="#1a1a1a" font-family="Liberation Sans, sans-serif" textLength="16.0" lengthAdjust="spacingAndGlyphs" stroke="#1a1a1a" stroke-width="0.2">20,4+j5→</text>
<text x="529.00" y="238.50" font-size="4.3" fill="#1a1a1a" font-family="Liberation Sans, sans-serif" textLength="5.0" lengthAdjust="spacingAndGlyphs" stroke="#1a1a1a" stroke-width="0.2">6→</text>
<text x="529.00" y="128.00" font-size="4.3" fill="#1a1a1a" font-family="Liberation Sans, sans-serif" textLength="18.0" lengthAdjust="spacingAndGlyphs" font-style="italic" stroke="#1a1a1a" stroke-width="0.2">А.Полуночн</text>
<text x="552.00" y="128.00" font-size="4.3" fill="#1a1a1a" font-family="Liberation Sans, sans-serif" textLength="10.0" lengthAdjust="spacingAndGlyphs" stroke="#1a1a1a" stroke-width="0.2">33,88</text>
<line x1="534.50" y1="136.50" x2="544.50" y2="136.50" stroke="#9a9a9a" stroke-width="1" shape-rendering="crispEdges"/>
<path d="M533.60,136.40 l2.8,-1.26 v2.52z" fill="#333"/>
<ellipse cx="546.30" cy="136.40" rx="3.2" ry="3.2" fill="#fff" stroke="#8c8c8c" stroke-width="1.0"/>
<ellipse cx="549.30" cy="136.40" rx="3.2" ry="3.2" fill="none" stroke="#8c8c8c" stroke-width="1.0"/>
<line x1="552.50" y1="136.50" x2="596.50" y2="136.50" stroke="#9a9a9a" stroke-width="1" shape-rendering="crispEdges"/>
<line x1="557.50" y1="130.60" x2="557.50" y2="143.40" stroke="#9a9a9a" stroke-width="1" shape-rendering="crispEdges"/>
<line x1="537.50" y1="131.00" x2="537.50" y2="143.00" stroke="#aaaaaa" stroke-width="1" stroke-dasharray="1.2 1.4" shape-rendering="crispEdges"/>
<text x="520.00" y="138.40" font-size="4.3" fill="#1a1a1a" font-family="Liberation Sans, sans-serif" textLength="10.0" lengthAdjust="spacingAndGlyphs" stroke="#1a1a1a" stroke-width="0.2">1,8+j2</text>
<text x="528.00" y="144.80" font-size="4.3" fill="#1a1a1a" font-family="Liberation Sans, sans-serif" textLength="7.5" lengthAdjust="spacingAndGlyphs" stroke="#1a1a1a" stroke-width="0.2">33,88</text>
<text x="560.00" y="133.60" font-size="4.3" fill="#1a1a1a" font-family="Liberation Sans, sans-serif" textLength="15.0" lengthAdjust="spacingAndGlyphs" stroke="#1a1a1a" stroke-width="0.2">←1,9+j2,3</text>
<text x="580.00" y="134.60" font-size="4.3" fill="#1a1a1a" font-family="Liberation Sans, sans-serif" textLength="11.0" lengthAdjust="spacingAndGlyphs" stroke="#1a1a1a" stroke-width="0.2">1,9+j2→</text>
<text x="562.00" y="140.60" font-size="4.3" fill="#888" font-family="Liberation Sans, sans-serif" textLength="5.0" lengthAdjust="spacingAndGlyphs" stroke="#888" stroke-width="0.2">&lt;13</text>
<text x="584.00" y="141.00" font-size="4.3" fill="#1a1a1a" font-family="Liberation Sans, sans-serif" textLength="4.0" lengthAdjust="spacingAndGlyphs" stroke="#1a1a1a" stroke-width="0.2">2→</text>
<line x1="567.50" y1="136.40" x2="567.50" y2="239.40" stroke="#9a9a9a" stroke-width="1" shape-rendering="crispEdges"/>
<text x="570.30" y="178.00" font-size="3.28" fill="#1a1a1a" font-family="Liberation Sans, sans-serif" textLength="18.0" lengthAdjust="spacingAndGlyphs" transform="rotate(-90 570.30 178.00)" stroke="#1a1a1a" stroke-width="0.14">1,4+j0,3</text>
<text x="565.90" y="214.50" font-size="3.28" fill="#1a1a1a" font-family="Liberation Sans, sans-serif" textLength="22.0" lengthAdjust="spacingAndGlyphs" transform="rotate(-90 565.90 214.50)" stroke="#1a1a1a" stroke-width="0.14">3,6+j4,9→</text>
<text x="570.30" y="207.00" font-size="2.952" fill="#1a1a1a" font-family="Liberation Sans, sans-serif" textLength="7.0" lengthAdjust="spacingAndGlyphs" transform="rotate(-90 570.30 207.00)" stroke="#1a1a1a" stroke-width="0.14">17→</text>
<text x="597.00" y="131.50" font-size="4.4" fill="#1a1a1a" font-family="Liberation Sans, sans-serif" textLength="22.0" lengthAdjust="spacingAndGlyphs" stroke="#1a1a1a" stroke-width="0.2">Тобольская 1</text>
<line x1="592.30" y1="143.50" x2="601.00" y2="143.50" stroke="#9a9a9a" stroke-width="1" shape-rendering="crispEdges"/>
<rect x="601.00" y="139.50" width="5.70" height="7.80" rx="0" fill="#fff" stroke="#9a9a9a" stroke-width="1.0"/>
<line x1="606.70" y1="143.50" x2="615.50" y2="143.50" stroke="#9a9a9a" stroke-width="1" shape-rendering="crispEdges"/>
<text x="585.00" y="150.50" font-size="4.3" fill="#1a1a1a" font-family="Liberation Sans, sans-serif" textLength="9.0" lengthAdjust="spacingAndGlyphs" stroke="#1a1a1a" stroke-width="0.2">133,75</text>
<text x="613.00" y="149.80" font-size="4.3" fill="#1a1a1a" font-family="Liberation Sans, sans-serif" textLength="9.0" lengthAdjust="spacingAndGlyphs" stroke="#1a1a1a" stroke-width="0.2">133,75</text>
<line x1="596.50" y1="136.40" x2="596.50" y2="205.00" stroke="#aaaaaa" stroke-width="1" stroke-dasharray="2.2 1.6" shape-rendering="crispEdges"/>
<line x1="611.50" y1="143.50" x2="611.50" y2="202.00" stroke="#aaaaaa" stroke-width="1" shape-rendering="crispEdges"/>
<rect x="593.60" y="151.30" width="5.80" height="13.60" rx="2.90" fill="#fff"/>
<path d="M593.60,156.60 V154.20 A2.90,2.90 0 0 1 599.40,154.20 V156.60" fill="none" stroke="#9c9c9c" stroke-width="0.9"/>
<rect x="593.30" y="156.40" width="6.40" height="3.2" fill="#a6a6a6"/>
<path d="M593.60,159.60 V161.70 Q593.60,164.10 596.50,164.90 Q599.40,164.10 599.40,161.70 V159.60" fill="none" stroke="#8c8c8c" stroke-width="1"/>
<rect x="608.80" y="151.30" width="5.80" height="13.60" rx="2.90" fill="#fff"/>
<path d="M608.80,156.60 V154.20 A2.90,2.90 0 0 1 614.60,154.20 V156.60" fill="none" stroke="#9c9c9c" stroke-width="0.9"/>
<rect x="608.50" y="156.40" width="6.40" height="3.2" fill="#858585"/>
<path d="M608.80,159.60 V161.70 Q608.80,164.10 611.70,164.90 Q614.60,164.10 614.60,161.70 V159.60" fill="none" stroke="#8c8c8c" stroke-width="1"/>
<rect x="608.80" y="180.50" width="5.80" height="14.20" rx="2.90" fill="#fff"/>
<path d="M608.80,186.10 V183.40 A2.90,2.90 0 0 1 614.60,183.40 V186.10" fill="none" stroke="#9c9c9c" stroke-width="0.9"/>
<rect x="608.50" y="185.90" width="6.40" height="3.2" fill="#858585"/>
<path d="M608.80,189.10 V191.50 Q608.80,193.90 611.70,194.70 Q614.60,193.90 614.60,191.50 V189.10" fill="none" stroke="#8c8c8c" stroke-width="1"/>
<rect x="593.60" y="180.50" width="5.80" height="14.20" rx="2.90" fill="#fff"/>
<path d="M593.60,186.10 V183.40 A2.90,2.90 0 0 1 599.40,183.40 V186.10" fill="none" stroke="#9c9c9c" stroke-width="0.9"/>
<rect x="593.30" y="185.90" width="6.40" height="3.2" fill="#a6a6a6"/>
<path d="M593.60,189.10 V191.50 Q593.60,193.90 596.50,194.70 Q599.40,193.90 599.40,191.50 V189.10" fill="none" stroke="#8c8c8c" stroke-width="1"/>
<text x="602.10" y="175.00" font-size="3.28" fill="#1a1a1a" font-family="Liberation Sans, sans-serif" textLength="23.0" lengthAdjust="spacingAndGlyphs" transform="rotate(-90 602.10 175.00)" stroke="#1a1a1a" stroke-width="0.14">←1,6+j6,6</text>
<text x="607.80" y="175.00" font-size="3.28" fill="#1a1a1a" font-family="Liberation Sans, sans-serif" textLength="23.0" lengthAdjust="spacingAndGlyphs" transform="rotate(-90 607.80 175.00)" stroke="#1a1a1a" stroke-width="0.14">←4,4+j5,8</text>
<text x="602.10" y="196.00" font-size="3.28" fill="#1a1a1a" font-family="Liberation Sans, sans-serif" textLength="12.0" lengthAdjust="spacingAndGlyphs" transform="rotate(-90 602.10 196.00)" stroke="#1a1a1a" stroke-width="0.14">←7→</text>
<text x="607.80" y="198.00" font-size="3.28" fill="#1a1a1a" font-family="Liberation Sans, sans-serif" textLength="18.0" lengthAdjust="spacingAndGlyphs" transform="rotate(-90 607.80 198.00)" stroke="#1a1a1a" stroke-width="0.14">←4,4+j8</text>
<line x1="591.50" y1="173.00" x2="596.50" y2="173.00" stroke="#9a9a9a" stroke-width="2" shape-rendering="crispEdges"/>
<ellipse cx="585.90" cy="172.70" rx="3.2" ry="3.2" fill="#fff" stroke="#8c8c8c" stroke-width="1.0"/>
<ellipse cx="588.90" cy="172.70" rx="3.2" ry="3.2" fill="none" stroke="#8c8c8c" stroke-width="1.0"/>
<line x1="577.50" y1="167.00" x2="577.50" y2="180.00" stroke="#aaaaaa" stroke-width="1" stroke-dasharray="1.2 1.4" shape-rendering="crispEdges"/>
<path d="M572.50,172.70 l2.8,-1.26 v2.52z" fill="#333"/>
<line x1="573.00" y1="172.50" x2="577.00" y2="172.50" stroke="#9a9a9a" stroke-width="1" shape-rendering="crispEdges"/>
<text x="580.00" y="183.00" font-size="4.3" fill="#1a1a1a" font-family="Liberation Sans, sans-serif" textLength="7.0" lengthAdjust="spacingAndGlyphs" stroke="#1a1a1a" stroke-width="0.2">13,75</text>
<line x1="611.70" y1="173.00" x2="616.00" y2="173.00" stroke="#9a9a9a" stroke-width="2" shape-rendering="crispEdges"/>
<ellipse cx="619.00" cy="172.70" rx="3.2" ry="3.2" fill="#fff" stroke="#8c8c8c" stroke-width="1.0"/>
<ellipse cx="622.00" cy="172.70" rx="3.2" ry="3.2" fill="none" stroke="#8c8c8c" stroke-width="1.0"/>
<line x1="625.00" y1="172.50" x2="631.60" y2="172.50" stroke="#aaaaaa" stroke-width="1" stroke-dasharray="1.2 1.4" shape-rendering="crispEdges"/>
<line x1="631.50" y1="166.00" x2="631.50" y2="178.80" stroke="#9a9a9a" stroke-width="1" shape-rendering="crispEdges"/>
<text x="623.00" y="181.70" font-size="4.3" fill="#1a1a1a" font-family="Liberation Sans, sans-serif" textLength="8.0" lengthAdjust="spacingAndGlyphs" stroke="#1a1a1a" stroke-width="0.2">36,78</text>
<text x="617.00" y="187.00" font-size="4.4" fill="#1a1a1a" font-family="Liberation Sans, sans-serif" textLength="21.0" lengthAdjust="spacingAndGlyphs" stroke="#1a1a1a" stroke-width="0.2">Тобольская 2</text>
<line x1="592.30" y1="202.50" x2="601.40" y2="202.50" stroke="#9a9a9a" stroke-width="1" shape-rendering="crispEdges"/>
<rect x="601.40" y="198.50" width="5.10" height="7.50" rx="0" fill="#fff" stroke="#9a9a9a" stroke-width="1.0"/>
<line x1="606.50" y1="202.50" x2="613.00" y2="202.50" stroke="#9a9a9a" stroke-width="1" shape-rendering="crispEdges"/>
<text x="585.00" y="201.00" font-size="4.3" fill="#1a1a1a" font-family="Liberation Sans, sans-serif" textLength="8.0" lengthAdjust="spacingAndGlyphs" stroke="#1a1a1a" stroke-width="0.2">35,68</text>
<text x="613.00" y="202.00" font-size="4.3" fill="#1a1a1a" font-family="Liberation Sans, sans-serif" textLength="8.0" lengthAdjust="spacingAndGlyphs" stroke="#1a1a1a" stroke-width="0.2">36,77</text>
<line x1="749.30" y1="129.00" x2="783.70" y2="129.00" stroke="#9a9a9a" stroke-width="2" shape-rendering="crispEdges"/>
<line x1="783.50" y1="129.00" x2="783.50" y2="136.40" stroke="#9a9a9a" stroke-width="1" shape-rendering="crispEdges"/>
<text x="749.00" y="126.40" font-size="4.3" fill="#1a1a1a" font-family="Liberation Sans, sans-serif" textLength="17.0" lengthAdjust="spacingAndGlyphs" stroke="#1a1a1a" stroke-width="0.2">←0,5+j4,5</text>
<text x="715.00" y="127.40" font-size="4.3" fill="#1a1a1a" font-family="Liberation Sans, sans-serif" textLength="16.0" lengthAdjust="spacingAndGlyphs" stroke="#1a1a1a" stroke-width="0.2">2,7+j2,3→</text>
<text x="728.50" y="133.00" font-size="4" fill="#1a1a1a" font-family="Liberation Sans, sans-serif" textLength="4.5" lengthAdjust="spacingAndGlyphs" stroke="#1a1a1a" stroke-width="0.2">2→</text>
<line x1="734.50" y1="128.70" x2="734.50" y2="195.00" stroke="#9a9a9a" stroke-width="1" shape-rendering="crispEdges"/>
<line x1="734.00" y1="136.50" x2="739.40" y2="136.50" stroke="#9a9a9a" stroke-width="1" shape-rendering="crispEdges"/>
<rect x="739.40" y="132.40" width="5.60" height="7.80" rx="0" fill="#fff" stroke="#9a9a9a" stroke-width="1.0"/>
<line x1="745.00" y1="136.50" x2="753.80" y2="136.50" stroke="#9a9a9a" stroke-width="1" shape-rendering="crispEdges"/>
<text x="722.00" y="141.40" font-size="4.3" fill="#1a1a1a" font-family="Liberation Sans, sans-serif" textLength="9.0" lengthAdjust="spacingAndGlyphs" stroke="#1a1a1a" stroke-width="0.2">33,52</text>
<line x1="722.00" y1="142.50" x2="731.00" y2="142.50" stroke="#8a8a8a" stroke-width="1" shape-rendering="crispEdges"/>
<text x="750.00" y="141.40" font-size="4.3" fill="#1a1a1a" font-family="Liberation Sans, sans-serif" textLength="7.0" lengthAdjust="spacingAndGlyphs" stroke="#1a1a1a" stroke-width="0.2">35,9</text>
<line x1="774.50" y1="136.50" x2="793.00" y2="136.50" stroke="#9a9a9a" stroke-width="1" shape-rendering="crispEdges"/>
<rect x="793.00" y="132.00" width="6.00" height="8.00" rx="0" fill="#fff" stroke="#9a9a9a" stroke-width="1.0"/>
<line x1="799.00" y1="136.50" x2="813.50" y2="136.50" stroke="#9a9a9a" stroke-width="1" shape-rendering="crispEdges"/>
<text x="761.00" y="134.20" font-size="4" fill="#1a1a1a" font-family="Liberation Sans, sans-serif" textLength="5.5" lengthAdjust="spacingAndGlyphs" stroke="#1a1a1a" stroke-width="0.2">←10</text>
<text x="771.00" y="134.20" font-size="4.3" fill="#1a1a1a" font-family="Liberation Sans, sans-serif" textLength="8.0" lengthAdjust="spacingAndGlyphs" stroke="#1a1a1a" stroke-width="0.2">35,38</text>
<line x1="771.00" y1="135.50" x2="779.00" y2="135.50" stroke="#8a8a8a" stroke-width="1" shape-rendering="crispEdges"/>
<text x="810.00" y="132.40" font-size="4.3" fill="#1a1a1a" font-family="Liberation Sans, sans-serif" textLength="9.0" lengthAdjust="spacingAndGlyphs" stroke="#1a1a1a" stroke-width="0.2">131,68</text>
<line x1="748.50" y1="129.00" x2="748.50" y2="195.00" stroke="#aaaaaa" stroke-width="1" stroke-dasharray="1.2 1.4" shape-rendering="crispEdges"/>
<line x1="803.50" y1="144.00" x2="803.50" y2="203.00" stroke="#aaaaaa" stroke-width="1" stroke-dasharray="1.2 1.4" shape-rendering="crispEdges"/>
<rect x="731.90" y="144.00" width="5.00" height="14.00" rx="2.50" fill="#fff"/>
<path d="M731.90,149.50 V146.50 A2.50,2.50 0 0 1 736.90,146.50 V149.50" fill="none" stroke="#9c9c9c" stroke-width="0.9"/>
<rect x="731.60" y="149.30" width="5.60" height="3.2" fill="#a6a6a6"/>
<path d="M731.90,152.50 V155.20 Q731.90,157.20 734.40,158.00 Q736.90,157.20 736.90,155.20 V152.50" fill="none" stroke="#8c8c8c" stroke-width="1"/>
<rect x="731.90" y="173.80" width="5.00" height="13.60" rx="2.50" fill="#fff"/>
<path d="M731.90,179.10 V176.30 A2.50,2.50 0 0 1 736.90,176.30 V179.10" fill="none" stroke="#9c9c9c" stroke-width="0.9"/>
<rect x="731.60" y="178.90" width="5.60" height="3.2" fill="#a6a6a6"/>
<path d="M731.90,182.10 V184.60 Q731.90,186.60 734.40,187.40 Q736.90,186.60 736.90,184.60 V182.10" fill="none" stroke="#8c8c8c" stroke-width="1"/>
<rect x="746.30" y="144.00" width="5.00" height="14.00" rx="2.50" fill="#fff"/>
<path d="M746.30,149.50 V146.50 A2.50,2.50 0 0 1 751.30,146.50 V149.50" fill="none" stroke="#9c9c9c" stroke-width="0.9"/>
<rect x="746.00" y="149.30" width="5.60" height="3.2" fill="#858585"/>
<path d="M746.30,152.50 V155.20 Q746.30,157.20 748.80,158.00 Q751.30,157.20 751.30,155.20 V152.50" fill="none" stroke="#8c8c8c" stroke-width="1"/>
<rect x="746.30" y="173.80" width="5.00" height="13.60" rx="2.50" fill="#fff"/>
<path d="M746.30,179.10 V176.30 A2.50,2.50 0 0 1 751.30,176.30 V179.10" fill="none" stroke="#9c9c9c" stroke-width="0.9"/>
<rect x="746.00" y="178.90" width="5.60" height="3.2" fill="#a6a6a6"/>
<path d="M746.30,182.10 V184.60 Q746.30,186.60 748.80,187.40 Q751.30,186.60 751.30,184.60 V182.10" fill="none" stroke="#8c8c8c" stroke-width="1"/>
<rect x="786.00" y="144.00" width="5.00" height="14.00" rx="2.50" fill="#fff"/>
<path d="M786.00,149.50 V146.50 A2.50,2.50 0 0 1 791.00,146.50 V149.50" fill="none" stroke="#9c9c9c" stroke-width="0.9"/>
<rect x="785.70" y="149.30" width="5.60" height="3.2" fill="#858585"/>
<path d="M786.00,152.50 V155.20 Q786.00,157.20 788.50,158.00 Q791.00,157.20 791.00,155.20 V152.50" fill="none" stroke="#8c8c8c" stroke-width="1"/>
<rect x="786.00" y="174.00" width="5.00" height="13.40" rx="2.50" fill="#fff"/>
<path d="M786.00,179.20 V176.50 A2.50,2.50 0 0 1 791.00,176.50 V179.20" fill="none" stroke="#9c9c9c" stroke-width="0.9"/>
<rect x="785.70" y="179.00" width="5.60" height="3.2" fill="#a6a6a6"/>
<path d="M786.00,182.20 V184.60 Q786.00,186.60 788.50,187.40 Q791.00,186.60 791.00,184.60 V182.20" fill="none" stroke="#8c8c8c" stroke-width="1"/>
<rect x="800.80" y="144.00" width="5.00" height="14.00" rx="2.50" fill="#fff"/>
<path d="M800.80,149.50 V146.50 A2.50,2.50 0 0 1 805.80,146.50 V149.50" fill="none" stroke="#9c9c9c" stroke-width="0.9"/>
<rect x="800.50" y="149.30" width="5.60" height="3.2" fill="#858585"/>
<path d="M800.80,152.50 V155.20 Q800.80,157.20 803.30,158.00 Q805.80,157.20 805.80,155.20 V152.50" fill="none" stroke="#8c8c8c" stroke-width="1"/>
<rect x="800.80" y="177.00" width="5.00" height="12.60" rx="2.50" fill="#fff"/>
<path d="M800.80,181.80 V179.50 A2.50,2.50 0 0 1 805.80,179.50 V181.80" fill="none" stroke="#9c9c9c" stroke-width="0.9"/>
<rect x="800.50" y="181.60" width="5.60" height="3.2" fill="#a6a6a6"/>
<path d="M800.80,184.80 V186.80 Q800.80,188.80 803.30,189.60 Q805.80,188.80 805.80,186.80 V184.80" fill="none" stroke="#8c8c8c" stroke-width="1"/>
<text x="740.10" y="165.00" font-size="3.1159999999999997" fill="#1a1a1a" font-family="Liberation Sans, sans-serif" textLength="22.0" lengthAdjust="spacingAndGlyphs" transform="rotate(-90 740.10 165.00)" stroke="#1a1a1a" stroke-width="0.14">1,9+j3,3→</text>
<text x="745.30" y="165.00" font-size="3.1159999999999997" fill="#1a1a1a" font-family="Liberation Sans, sans-serif" textLength="22.0" lengthAdjust="spacingAndGlyphs" transform="rotate(-90 745.30 165.00)" stroke="#1a1a1a" stroke-width="0.14">←2,7+j3,6</text>
<text x="740.10" y="188.00" font-size="3.1159999999999997" fill="#1a1a1a" font-family="Liberation Sans, sans-serif" textLength="18.0" lengthAdjust="spacingAndGlyphs" transform="rotate(-90 740.10 188.00)" stroke="#1a1a1a" stroke-width="0.14">1,9+j3,4</text>
<text x="745.30" y="188.00" font-size="3.1159999999999997" fill="#1a1a1a" font-family="Liberation Sans, sans-serif" textLength="18.0" lengthAdjust="spacingAndGlyphs" transform="rotate(-90 745.30 188.00)" stroke="#1a1a1a" stroke-width="0.14">2,7+j3,3</text>
<text x="784.50" y="158.00" font-size="3.1159999999999997" fill="#1a1a1a" font-family="Liberation Sans, sans-serif" textLength="18.0" lengthAdjust="spacingAndGlyphs" transform="rotate(-90 784.50 158.00)" stroke="#1a1a1a" stroke-width="0.14">←19+j4</text>
<text x="794.30" y="183.00" font-size="3.1159999999999997" fill="#1a1a1a" font-family="Liberation Sans, sans-serif" textLength="23.0" lengthAdjust="spacingAndGlyphs" transform="rotate(-90 794.30 183.00)" stroke="#1a1a1a" stroke-width="0.14">←5,8+j4,13</text>
<text x="799.30" y="165.00" font-size="3.1159999999999997" fill="#1a1a1a" font-family="Liberation Sans, sans-serif" textLength="20.0" lengthAdjust="spacingAndGlyphs" transform="rotate(-90 799.30 165.00)" stroke="#1a1a1a" stroke-width="0.14">←0,5+j3</text>
<text x="799.30" y="190.00" font-size="3.1159999999999997" fill="#1a1a1a" font-family="Liberation Sans, sans-serif" textLength="20.0" lengthAdjust="spacingAndGlyphs" transform="rotate(-90 799.30 190.00)" stroke="#1a1a1a" stroke-width="0.14">→0,5+j4,6</text>
<text x="702.00" y="156.60" font-size="4.4" fill="#1a1a1a" font-family="Liberation Sans, sans-serif" textLength="23.0" lengthAdjust="spacingAndGlyphs" font-weight="bold" stroke="#1a1a1a" stroke-width="0.2">Иртыш-ная 2</text>
<text x="699.00" y="163.40" font-size="4.3" fill="#1a1a1a" font-family="Liberation Sans, sans-serif" textLength="12.0" lengthAdjust="spacingAndGlyphs" stroke="#1a1a1a" stroke-width="0.2">2,2+j12</text>
<text x="704.00" y="172.00" font-size="4.3" fill="#1a1a1a" font-family="Liberation Sans, sans-serif" textLength="8.0" lengthAdjust="spacingAndGlyphs" stroke="#1a1a1a" stroke-width="0.2">33,54</text>
<line x1="714.50" y1="158.00" x2="714.50" y2="172.00" stroke="#9a9a9a" stroke-width="1" shape-rendering="crispEdges"/>
<line x1="711.00" y1="165.50" x2="721.00" y2="165.50" stroke="#9a9a9a" stroke-width="1" shape-rendering="crispEdges"/>
<polyline points="713.00,164.30 711.00,165.50 713.00,166.70" fill="none" stroke="#444" stroke-width="0.7"/>
<ellipse cx="725.60" cy="165.50" rx="3.3" ry="3.3" fill="#fff" stroke="#aaaaaa" stroke-width="1.0" stroke-dasharray="1.2 1"/>
<line x1="729.00" y1="165.50" x2="734.40" y2="165.50" stroke="#9a9a9a" stroke-width="1" shape-rendering="crispEdges"/>
<line x1="748.80" y1="165.50" x2="753.80" y2="165.50" stroke="#9a9a9a" stroke-width="1" shape-rendering="crispEdges"/>
<rect x="753.90" y="161.50" width="5.60" height="8.00" rx="2" fill="#fff" stroke="#8c8c8c" stroke-width="1.0"/>
<line x1="759.60" y1="165.50" x2="763.00" y2="165.50" stroke="#aaaaaa" stroke-width="1" stroke-dasharray="1.2 1.4" shape-rendering="crispEdges"/>
<line x1="763.00" y1="165.50" x2="788.50" y2="165.50" stroke="#9a9a9a" stroke-width="1" shape-rendering="crispEdges"/>
<line x1="768.50" y1="156.30" x2="768.50" y2="174.60" stroke="#9a9a9a" stroke-width="1" shape-rendering="crispEdges"/>
<text x="754.00" y="154.00" font-size="4.4" fill="#1a1a1a" font-family="Liberation Sans, sans-serif" textLength="22.0" lengthAdjust="spacingAndGlyphs" font-weight="bold" stroke="#1a1a1a" stroke-width="0.2">Иртыш-ная 1</text>
<text x="754.00" y="160.00" font-size="4.3" fill="#1a1a1a" font-family="Liberation Sans, sans-serif" textLength="12.0" lengthAdjust="spacingAndGlyphs" stroke="#1a1a1a" stroke-width="0.2">3,6+j3,3→</text>
<text x="765.00" y="177.60" font-size="4.3" fill="#1a1a1a" font-family="Liberation Sans, sans-serif" textLength="6.0" lengthAdjust="spacingAndGlyphs" stroke="#1a1a1a" stroke-width="0.2">32,8</text>
<rect x="775.60" y="165.70" width="5.20" height="9.60" rx="2" fill="#ddd" stroke="#777" stroke-width="1.0"/>
<path d="M775.6,175 Q778.2,186 780.8,175" fill="none" stroke="#aaa" stroke-width="0.9" stroke-dasharray="1.2 1"/>
<text x="775.30" y="167.00" font-size="2.952" fill="#1a1a1a" font-family="Liberation Sans, sans-serif" textLength="10.0" lengthAdjust="spacingAndGlyphs" transform="rotate(-90 775.30 167.00)" stroke="#1a1a1a" stroke-width="0.14">←3,9</text>
<line x1="802.70" y1="165.50" x2="808.00" y2="165.50" stroke="#9a9a9a" stroke-width="1" shape-rendering="crispEdges"/>
<rect x="808.60" y="161.50" width="4.40" height="8.40" rx="2" fill="#fff" stroke="#8c8c8c" stroke-width="1.0"/>
<rect x="812.80" y="161.50" width="4.40" height="8.40" rx="2" fill="#fff" stroke="#8c8c8c" stroke-width="1.0"/>
<line x1="817.20" y1="165.50" x2="827.60" y2="165.50" stroke="#9a9a9a" stroke-width="1" shape-rendering="crispEdges"/>
<path d="M828.40,165.50 l-2.8,-1.26 v2.52z" fill="#333"/>
<line x1="822.50" y1="155.80" x2="822.50" y2="172.20" stroke="#9a9a9a" stroke-width="1" shape-rendering="crispEdges"/>
<text x="809.00" y="157.40" font-size="4.4" fill="#1a1a1a" font-family="Liberation Sans, sans-serif" textLength="19.0" lengthAdjust="spacingAndGlyphs" font-weight="bold" stroke="#1a1a1a" stroke-width="0.2">Иртышная 2</text>
<text x="831.00" y="169.00" font-size="4.3" fill="#1a1a1a" font-family="Liberation Sans, sans-serif" textLength="14.0" lengthAdjust="spacingAndGlyphs" stroke="#1a1a1a" stroke-width="0.2">12+j5,6</text>
<text x="824.00" y="174.00" font-size="4.3" fill="#1a1a1a" font-family="Liberation Sans, sans-serif" textLength="8.0" lengthAdjust="spacingAndGlyphs" stroke="#1a1a1a" stroke-width="0.2">33,34</text>
<text x="757.00" y="185.60" font-size="4.4" fill="#1a1a1a" font-family="Liberation Sans, sans-serif" textLength="23.0" lengthAdjust="spacingAndGlyphs" font-weight="bold" stroke="#1a1a1a" stroke-width="0.2">Иртыш-ная 1</text>
<line x1="724.80" y1="195.50" x2="739.40" y2="195.50" stroke="#9a9a9a" stroke-width="1" shape-rendering="crispEdges"/>
<rect x="739.20" y="191.50" width="5.80" height="7.10" rx="0" fill="#fff" stroke="#9a9a9a" stroke-width="1.0"/>
<line x1="745.00" y1="195.50" x2="759.00" y2="195.50" stroke="#9a9a9a" stroke-width="1" shape-rendering="crispEdges"/>
<text x="720.00" y="191.00" font-size="4.3" fill="#1a1a1a" font-family="Liberation Sans, sans-serif" textLength="9.0" lengthAdjust="spacingAndGlyphs" stroke="#1a1a1a" stroke-width="0.2">35,62</text>
<text x="750.00" y="191.40" font-size="4.3" fill="#1a1a1a" font-family="Liberation Sans, sans-serif" textLength="7.0" lengthAdjust="spacingAndGlyphs" stroke="#1a1a1a" stroke-width="0.2">35,7</text>
<line x1="783.80" y1="194.50" x2="793.00" y2="194.50" stroke="#9a9a9a" stroke-width="1" shape-rendering="crispEdges"/>
<rect x="793.00" y="191.50" width="5.60" height="6.70" rx="0" fill="#fff" stroke="#9a9a9a" stroke-width="1.0"/>
<line x1="798.60" y1="194.50" x2="816.00" y2="194.50" stroke="#9a9a9a" stroke-width="1" shape-rendering="crispEdges"/>
<path d="M815.80,200.00 l-1.26,-2.8 h2.52z" fill="#555"/>
<text x="782.00" y="193.00" font-size="4.3" fill="#1a1a1a" font-family="Liberation Sans, sans-serif" textLength="9.0" lengthAdjust="spacingAndGlyphs" stroke="#1a1a1a" stroke-width="0.2">36,73</text>
<text x="806.00" y="193.00" font-size="4.3" fill="#1a1a1a" font-family="Liberation Sans, sans-serif" textLength="9.0" lengthAdjust="spacingAndGlyphs" stroke="#1a1a1a" stroke-width="0.2">36,62</text>
<line x1="754.50" y1="195.00" x2="754.50" y2="202.70" stroke="#aaaaaa" stroke-width="1" stroke-dasharray="1.2 1.4" shape-rendering="crispEdges"/>
<line x1="803.50" y1="195.00" x2="803.50" y2="202.70" stroke="#aaaaaa" stroke-width="1" stroke-dasharray="1.2 1.4" shape-rendering="crispEdges"/>
<line x1="754.00" y1="202.50" x2="803.70" y2="202.50" stroke="#aaaaaa" stroke-width="1" shape-rendering="crispEdges"/>
<line x1="773.80" y1="187.50" x2="783.00" y2="187.50" stroke="#9a9a9a" stroke-width="1" shape-rendering="crispEdges"/>
<line x1="778.50" y1="187.30" x2="778.50" y2="194.80" stroke="#9a9a9a" stroke-width="1" shape-rendering="crispEdges"/>
<path d="M778.30,196.50 l-1.26,-2.8 h2.52z" fill="#555"/>
<text x="766.00" y="192.60" font-size="4.3" fill="#1a1a1a" font-family="Liberation Sans, sans-serif" textLength="6.0" lengthAdjust="spacingAndGlyphs" stroke="#1a1a1a" stroke-width="0.2">30,9</text>
<text x="764.00" y="201.00" font-size="4.3" fill="#1a1a1a" font-family="Liberation Sans, sans-serif" textLength="18.0" lengthAdjust="spacingAndGlyphs" stroke="#1a1a1a" stroke-width="0.2">← 57+j56</text>
<text x="799.00" y="207.00" font-size="4.5" fill="#888" font-family="Liberation Sans, sans-serif" stroke="#888" stroke-width="0.2">+</text>
<line x1="71.70" y1="232.00" x2="243.40" y2="232.00" stroke="#9a9a9a" stroke-width="2" shape-rendering="crispEdges"/>
<line x1="71.50" y1="232.00" x2="71.50" y2="266.00" stroke="#a2a2a2" stroke-width="1" stroke-dasharray="1.5 1.5" shape-rendering="crispEdges"/>
<line x1="243.50" y1="209.80" x2="243.50" y2="232.00" stroke="#9a9a9a" stroke-width="1" shape-rendering="crispEdges"/>
<text x="72.00" y="230.60" font-size="4.3" fill="#1a1a1a" font-family="Liberation Sans, sans-serif" textLength="16.0" lengthAdjust="spacingAndGlyphs" stroke="#1a1a1a" stroke-width="0.2">←0,1+j0,1</text>
<text x="73.50" y="236.00" font-size="3.8" fill="#1a1a1a" font-family="Liberation Sans, sans-serif" textLength="4.0" lengthAdjust="spacingAndGlyphs" stroke="#1a1a1a" stroke-width="0.2">&lt;4</text>
<line x1="76.30" y1="239.50" x2="189.60" y2="239.50" stroke="#9a9a9a" stroke-width="1" shape-rendering="crispEdges"/>
<polyline points="76.50,239.70 77.30,240.45 75.70,241.95 77.30,243.45 75.70,244.95 77.30,246.45 75.70,247.95 77.30,249.45 75.70,250.95 77.30,252.45 75.70,253.95 77.30,255.45 75.70,256.95 77.30,258.45 75.70,259.95 76.50,261.00" fill="none" stroke="#939393" stroke-width="0.95"/>
<line x1="189.50" y1="239.50" x2="189.50" y2="276.40" stroke="#9a9a9a" stroke-width="1" shape-rendering="crispEdges"/>
<line x1="189.60" y1="276.50" x2="243.50" y2="276.50" stroke="#9a9a9a" stroke-width="1" shape-rendering="crispEdges"/>
<line x1="243.50" y1="276.40" x2="243.50" y2="320.50" stroke="#9a9a9a" stroke-width="1" shape-rendering="crispEdges"/>
<line x1="243.50" y1="320.50" x2="321.50" y2="320.50" stroke="#9a9a9a" stroke-width="1" shape-rendering="crispEdges"/>
<text x="80.00" y="237.40" font-size="4.3" fill="#1a1a1a" font-family="Liberation Sans, sans-serif" textLength="19.0" lengthAdjust="spacingAndGlyphs" stroke="#1a1a1a" stroke-width="0.2">0+j4,2+j32,7</text>
<text x="79.50" y="243.60" font-size="4" fill="#1a1a1a" font-family="Liberation Sans, sans-serif" textLength="6.0" lengthAdjust="spacingAndGlyphs" stroke="#1a1a1a" stroke-width="0.2">←16</text>
<line x1="51.50" y1="246.50" x2="179.40" y2="246.50" stroke="#9a9a9a" stroke-width="1" shape-rendering="crispEdges"/>
<line x1="61.50" y1="246.70" x2="61.50" y2="258.00" stroke="#9a9a9a" stroke-width="1" shape-rendering="crispEdges"/>
<line x1="179.50" y1="246.50" x2="179.50" y2="320.00" stroke="#9a9a9a" stroke-width="1" shape-rendering="crispEdges"/>
<text x="52.00" y="245.00" font-size="4.3" fill="#1a1a1a" font-family="Liberation Sans, sans-serif" textLength="16.0" lengthAdjust="spacingAndGlyphs" stroke="#1a1a1a" stroke-width="0.2">2,5+j6,4→</text>
<text x="53.50" y="250.80" font-size="4" fill="#1a1a1a" font-family="Liberation Sans, sans-serif" textLength="5.0" lengthAdjust="spacingAndGlyphs" stroke="#1a1a1a" stroke-width="0.2">2→</text>
<line x1="81.30" y1="254.50" x2="164.60" y2="254.50" stroke="#9a9a9a" stroke-width="1" shape-rendering="crispEdges"/>
<line x1="81.50" y1="254.40" x2="81.50" y2="261.00" stroke="#9a9a9a" stroke-width="1" shape-rendering="crispEdges"/>
<line x1="164.50" y1="254.40" x2="164.50" y2="320.00" stroke="#9a9a9a" stroke-width="1" shape-rendering="crispEdges"/>
<text x="82.00" y="252.80" font-size="4.3" fill="#1a1a1a" font-family="Liberation Sans, sans-serif" textLength="14.0" lengthAdjust="spacingAndGlyphs" stroke="#1a1a1a" stroke-width="0.2">20+j3→</text>
<text x="82.50" y="258.60" font-size="4" fill="#1a1a1a" font-family="Liberation Sans, sans-serif" textLength="6.0" lengthAdjust="spacingAndGlyphs" stroke="#1a1a1a" stroke-width="0.2">67→</text>
<text x="118.00" y="252.80" font-size="4.3" fill="#1a1a1a" font-family="Liberation Sans, sans-serif" textLength="16.0" lengthAdjust="spacingAndGlyphs" stroke="#1a1a1a" stroke-width="0.2">37+j2,5→</text>
<text x="126.50" y="258.40" font-size="4" fill="#1a1a1a" font-family="Liberation Sans, sans-serif" textLength="5.0" lengthAdjust="spacingAndGlyphs" stroke="#1a1a1a" stroke-width="0.2">5→</text>
<text x="139.00" y="252.80" font-size="4.3" fill="#1a1a1a" font-family="Liberation Sans, sans-serif" textLength="17.0" lengthAdjust="spacingAndGlyphs" stroke="#1a1a1a" stroke-width="0.2">←1,2-j3,3</text>
<text x="150.50" y="258.80" font-size="3.6" fill="#1a1a1a" font-family="Liberation Sans, sans-serif" textLength="4.0" lengthAdjust="spacingAndGlyphs" stroke="#1a1a1a" stroke-width="0.2">⊢⊣</text>
<line x1="120.50" y1="254.40" x2="120.50" y2="279.60" stroke="#9a9a9a" stroke-width="1" shape-rendering="crispEdges"/>
<rect x="119.20" y="263.90" width="2.80" height="8.10" rx="0" fill="#fff" stroke="#777" stroke-width="0.9"/>
<line x1="115.30" y1="276.50" x2="124.50" y2="276.50" stroke="#9a9a9a" stroke-width="1" shape-rendering="crispEdges"/>
<text x="119.10" y="290.00" font-size="3.1159999999999997" fill="#1a1a1a" font-family="Liberation Sans, sans-serif" textLength="27.0" lengthAdjust="spacingAndGlyphs" transform="rotate(-90 119.10 290.00)" stroke="#1a1a1a" stroke-width="0.14">←0,9+j0,9</text>
<line x1="42.30" y1="261.50" x2="61.70" y2="261.50" stroke="#9a9a9a" stroke-width="1" shape-rendering="crispEdges"/>
<rect x="61.70" y="257.70" width="5.00" height="7.30" rx="0" fill="#fff" stroke="#9a9a9a" stroke-width="1.0"/>
<line x1="66.70" y1="261.50" x2="86.20" y2="261.50" stroke="#9a9a9a" stroke-width="1" shape-rendering="crispEdges"/>
<text x="20.00" y="256.00" font-size="4.3" fill="#1a1a1a" font-family="Liberation Sans, sans-serif" textLength="11.0" lengthAdjust="spacingAndGlyphs" stroke="#1a1a1a" stroke-width="0.2">131,06</text>
<text x="24.00" y="269.60" font-size="4.6" fill="#1a1a1a" font-family="Liberation Sans, sans-serif" textLength="19.0" lengthAdjust="spacingAndGlyphs" stroke="#1a1a1a" stroke-width="0.2">Аккаль 2</text>
<text x="76.00" y="270.40" font-size="4.3" fill="#1a1a1a" font-family="Liberation Sans, sans-serif" textLength="10.0" lengthAdjust="spacingAndGlyphs" stroke="#1a1a1a" stroke-width="0.2">33,75</text>
<text x="77.00" y="278.00" font-size="4.6" fill="#1a1a1a" font-family="Liberation Sans, sans-serif" textLength="15.0" lengthAdjust="spacingAndGlyphs" stroke="#1a1a1a" stroke-width="0.2">Аккаль</text>
<line x1="56.50" y1="261.00" x2="56.50" y2="320.00" stroke="#aaaaaa" stroke-width="1" shape-rendering="crispEdges"/>
<rect x="53.30" y="268.80" width="6.40" height="14.20" rx="3.20" fill="#fff"/>
<path d="M53.30,274.40 V272.00 A3.20,3.20 0 0 1 59.70,272.00 V274.40" fill="none" stroke="#9c9c9c" stroke-width="0.9"/>
<rect x="53.00" y="274.20" width="7.00" height="3.2" fill="#858585"/>
<path d="M53.30,277.40 V279.50 Q53.30,282.20 56.50,283.00 Q59.70,282.20 59.70,279.50 V277.40" fill="none" stroke="#8c8c8c" stroke-width="1"/>
<rect x="53.30" y="298.70" width="6.40" height="14.20" rx="3.20" fill="#fff"/>
<path d="M53.30,304.30 V301.90 A3.20,3.20 0 0 1 59.70,301.90 V304.30" fill="none" stroke="#9c9c9c" stroke-width="0.9"/>
<rect x="53.00" y="304.10" width="7.00" height="3.2" fill="#858585"/>
<path d="M53.30,307.30 V309.40 Q53.30,312.10 56.50,312.90 Q59.70,312.10 59.70,309.40 V307.30" fill="none" stroke="#8c8c8c" stroke-width="1"/>
<line x1="71.50" y1="261.00" x2="71.50" y2="320.00" stroke="#aaaaaa" stroke-width="1" shape-rendering="crispEdges"/>
<rect x="68.30" y="268.80" width="6.40" height="14.20" rx="3.20" fill="#fff"/>
<path d="M68.30,274.40 V272.00 A3.20,3.20 0 0 1 74.70,272.00 V274.40" fill="none" stroke="#9c9c9c" stroke-width="0.9"/>
<rect x="68.00" y="274.20" width="7.00" height="3.2" fill="#858585"/>
<path d="M68.30,277.40 V279.50 Q68.30,282.20 71.50,283.00 Q74.70,282.20 74.70,279.50 V277.40" fill="none" stroke="#8c8c8c" stroke-width="1"/>
<rect x="68.30" y="298.70" width="6.40" height="14.20" rx="3.20" fill="#fff"/>
<path d="M68.30,304.30 V301.90 A3.20,3.20 0 0 1 74.70,301.90 V304.30" fill="none" stroke="#9c9c9c" stroke-width="0.9"/>
<rect x="68.00" y="304.10" width="7.00" height="3.2" fill="#a6a6a6"/>
<path d="M68.30,307.30 V309.40 Q68.30,312.10 71.50,312.90 Q74.70,312.10 74.70,309.40 V307.30" fill="none" stroke="#8c8c8c" stroke-width="1"/>
<text x="52.70" y="290.00" font-size="3.1159999999999997" fill="#1a1a1a" font-family="Liberation Sans, sans-serif" textLength="22.0" lengthAdjust="spacingAndGlyphs" transform="rotate(-90 52.70 290.00)" stroke="#1a1a1a" stroke-width="0.14">←4,6+j3,6</text>
<text x="67.60" y="290.00" font-size="3.1159999999999997" fill="#1a1a1a" font-family="Liberation Sans, sans-serif" textLength="22.0" lengthAdjust="spacingAndGlyphs" transform="rotate(-90 67.60 290.00)" stroke="#1a1a1a" stroke-width="0.14">←1,8+j4,1</text>
<text x="52.70" y="317.00" font-size="3.1159999999999997" fill="#1a1a1a" font-family="Liberation Sans, sans-serif" textLength="20.0" lengthAdjust="spacingAndGlyphs" transform="rotate(-90 52.70 317.00)" stroke="#1a1a1a" stroke-width="0.14">4,6+j3,9→</text>
<text x="67.60" y="317.00" font-size="3.1159999999999997" fill="#1a1a1a" font-family="Liberation Sans, sans-serif" textLength="20.0" lengthAdjust="spacingAndGlyphs" transform="rotate(-90 67.60 317.00)" stroke="#1a1a1a" stroke-width="0.14">←1,9+j4,6</text>
<ellipse cx="45.30" cy="290.90" rx="3.1" ry="3.1" fill="#fff" stroke="#8c8c8c" stroke-width="1.0"/>
<ellipse cx="48.30" cy="290.90" rx="3.1" ry="3.1" fill="none" stroke="#8c8c8c" stroke-width="1.0"/>
<line x1="51.40" y1="291.00" x2="56.50" y2="291.00" stroke="#9a9a9a" stroke-width="2" shape-rendering="crispEdges"/>
<line x1="36.50" y1="283.00" x2="36.50" y2="299.00" stroke="#aaaaaa" stroke-width="1" stroke-dasharray="1.2 1.4" shape-rendering="crispEdges"/>
<line x1="33.50" y1="290.50" x2="36.50" y2="290.50" stroke="#9a9a9a" stroke-width="1" shape-rendering="crispEdges"/>
<path d="M32.20,290.90 l2.8,-1.26 v2.52z" fill="#333"/>
<text x="25.00" y="282.00" font-size="4" fill="#1a1a1a" font-family="Liberation Sans, sans-serif" textLength="5.0" lengthAdjust="spacingAndGlyphs" stroke="#1a1a1a" stroke-width="0.2">226</text>
<text x="21.00" y="302.00" font-size="3.1159999999999997" fill="#1a1a1a" font-family="Liberation Sans, sans-serif" textLength="17.0" lengthAdjust="spacingAndGlyphs" transform="rotate(-90 21.00 302.00)" stroke="#1a1a1a" stroke-width="0.14">6,7+j2,05</text>
<line x1="71.50" y1="291.00" x2="76.30" y2="291.00" stroke="#9a9a9a" stroke-width="2" shape-rendering="crispEdges"/>
<ellipse cx="79.70" cy="290.90" rx="3.1" ry="3.1" fill="#fff" stroke="#8c8c8c" stroke-width="1.0"/>
<ellipse cx="82.70" cy="290.90" rx="3.1" ry="3.1" fill="none" stroke="#8c8c8c" stroke-width="1.0"/>
<line x1="90.50" y1="284.60" x2="90.50" y2="297.90" stroke="#9a9a9a" stroke-width="1" shape-rendering="crispEdges"/>
<line x1="86.00" y1="290.50" x2="94.00" y2="290.50" stroke="#9a9a9a" stroke-width="1" shape-rendering="crispEdges"/>
<path d="M95.00,290.90 l-2.8,-1.26 v2.52z" fill="#333"/>
<text x="82.00" y="302.00" font-size="4" fill="#1a1a1a" font-family="Liberation Sans, sans-serif" textLength="6.0" lengthAdjust="spacingAndGlyphs" stroke="#1a1a1a" stroke-width="0.2">31,7</text>
<text x="98.50" y="302.00" font-size="3.1159999999999997" fill="#1a1a1a" font-family="Liberation Sans, sans-serif" textLength="18.0" lengthAdjust="spacingAndGlyphs" transform="rotate(-90 98.50 302.00)" stroke="#1a1a1a" stroke-width="0.14">6,4+j3,13</text>
<line x1="46.10" y1="320.50" x2="61.40" y2="320.50" stroke="#9a9a9a" stroke-width="1" shape-rendering="crispEdges"/>
<rect x="61.40" y="316.40" width="5.30" height="8.00" rx="0" fill="#fff" stroke="#9a9a9a" stroke-width="1.0"/>
<line x1="66.70" y1="320.50" x2="80.40" y2="320.50" stroke="#9a9a9a" stroke-width="1" shape-rendering="crispEdges"/>
<text x="36.00" y="318.60" font-size="4.3" fill="#1a1a1a" font-family="Liberation Sans, sans-serif" textLength="5.5" lengthAdjust="spacingAndGlyphs" stroke="#1a1a1a" stroke-width="0.2">35,1</text>
<text x="78.00" y="319.00" font-size="4.3" fill="#1a1a1a" font-family="Liberation Sans, sans-serif" textLength="8.5" lengthAdjust="spacingAndGlyphs" stroke="#1a1a1a" stroke-width="0.2">34,42</text>
<text x="90.00" y="321.20" font-size="4.4" fill="#1a1a1a" font-family="Liberation Sans, sans-serif" textLength="18.0" lengthAdjust="spacingAndGlyphs" font-weight="bold" stroke="#1a1a1a" stroke-width="0.2">Минта 132</text>
<text x="116.00" y="326.00" font-size="4.3" fill="#1a1a1a" font-family="Liberation Sans, sans-serif" textLength="9.0" lengthAdjust="spacingAndGlyphs" stroke="#1a1a1a" stroke-width="0.2">10+j2</text>
<text x="132.00" y="320.60" font-size="4.3" fill="#1a1a1a" font-family="Liberation Sans, sans-serif" textLength="10.0" lengthAdjust="spacingAndGlyphs" stroke="#1a1a1a" stroke-width="0.2">108,05</text>
<line x1="159.70" y1="261.50" x2="169.60" y2="261.50" stroke="#9a9a9a" stroke-width="1" shape-rendering="crispEdges"/>
<line x1="173.80" y1="261.50" x2="184.50" y2="261.50" stroke="#9a9a9a" stroke-width="1" shape-rendering="crispEdges"/>
<text x="148.00" y="266.60" font-size="4.3" fill="#1a1a1a" font-family="Liberation Sans, sans-serif" textLength="10.0" lengthAdjust="spacingAndGlyphs" stroke="#1a1a1a" stroke-width="0.2">39,67</text>
<text x="181.00" y="260.00" font-size="4.3" fill="#1a1a1a" font-family="Liberation Sans, sans-serif" textLength="9.0" lengthAdjust="spacingAndGlyphs" stroke="#1a1a1a" stroke-width="0.2">39,67</text>
<text x="141.00" y="277.00" font-size="4.6" fill="#1a1a1a" font-family="Liberation Sans, sans-serif" textLength="17.0" lengthAdjust="spacingAndGlyphs" stroke="#1a1a1a" stroke-width="0.2">Россия 1</text>
<text x="183.00" y="282.60" font-size="4.6" fill="#1a1a1a" font-family="Liberation Sans, sans-serif" textLength="18.0" lengthAdjust="spacingAndGlyphs" stroke="#1a1a1a" stroke-width="0.2">Россия 2</text>
<rect x="161.40" y="269.00" width="6.40" height="14.00" rx="3.20" fill="#fff"/>
<path d="M161.40,274.50 V272.20 A3.20,3.20 0 0 1 167.80,272.20 V274.50" fill="none" stroke="#9c9c9c" stroke-width="0.9"/>
<rect x="161.10" y="274.30" width="7.00" height="3.2" fill="#858585"/>
<path d="M161.40,277.50 V279.50 Q161.40,282.20 164.60,283.00 Q167.80,282.20 167.80,279.50 V277.50" fill="none" stroke="#8c8c8c" stroke-width="1"/>
<rect x="161.40" y="298.00" width="6.40" height="15.00" rx="3.20" fill="#fff"/>
<path d="M161.40,304.00 V301.20 A3.20,3.20 0 0 1 167.80,301.20 V304.00" fill="none" stroke="#9c9c9c" stroke-width="0.9"/>
<rect x="161.10" y="303.80" width="7.00" height="3.2" fill="#858585"/>
<path d="M161.40,307.00 V309.50 Q161.40,312.20 164.60,313.00 Q167.80,312.20 167.80,309.50 V307.00" fill="none" stroke="#8c8c8c" stroke-width="1"/>
<rect x="176.00" y="269.00" width="6.40" height="14.00" rx="3.20" fill="#fff"/>
<path d="M176.00,274.50 V272.20 A3.20,3.20 0 0 1 182.40,272.20 V274.50" fill="none" stroke="#9c9c9c" stroke-width="0.9"/>
<rect x="175.70" y="274.30" width="7.00" height="3.2" fill="#858585"/>
<path d="M176.00,277.50 V279.50 Q176.00,282.20 179.20,283.00 Q182.40,282.20 182.40,279.50 V277.50" fill="none" stroke="#8c8c8c" stroke-width="1"/>
<rect x="176.00" y="298.00" width="6.40" height="15.00" rx="3.20" fill="#fff"/>
<path d="M176.00,304.00 V301.20 A3.20,3.20 0 0 1 182.40,301.20 V304.00" fill="none" stroke="#9c9c9c" stroke-width="0.9"/>
<rect x="175.70" y="303.80" width="7.00" height="3.2" fill="#858585"/>
<path d="M176.00,307.00 V309.50 Q176.00,312.20 179.20,313.00 Q182.40,312.20 182.40,309.50 V307.00" fill="none" stroke="#8c8c8c" stroke-width="1"/>
<text x="168.70" y="287.00" font-size="3.1159999999999997" fill="#1a1a1a" font-family="Liberation Sans, sans-serif" textLength="20.0" lengthAdjust="spacingAndGlyphs" transform="rotate(-90 168.70 287.00)" stroke="#1a1a1a" stroke-width="0.14">←35+j3,9</text>
<text x="174.90" y="287.00" font-size="3.1159999999999997" fill="#1a1a1a" font-family="Liberation Sans, sans-serif" textLength="20.0" lengthAdjust="spacingAndGlyphs" transform="rotate(-90 174.90 287.00)" stroke="#1a1a1a" stroke-width="0.14">←0,9+j4,9</text>
<text x="168.70" y="313.00" font-size="3.1159999999999997" fill="#1a1a1a" font-family="Liberation Sans, sans-serif" textLength="18.0" lengthAdjust="spacingAndGlyphs" transform="rotate(-90 168.70 313.00)" stroke="#1a1a1a" stroke-width="0.14">←35+j3,64</text>
<text x="174.90" y="313.00" font-size="3.1159999999999997" fill="#1a1a1a" font-family="Liberation Sans, sans-serif" textLength="18.0" lengthAdjust="spacingAndGlyphs" transform="rotate(-90 174.90 313.00)" stroke="#1a1a1a" stroke-width="0.14">←1,2+j4</text>
<ellipse cx="153.70" cy="290.80" rx="3.1" ry="3.1" fill="#fff" stroke="#8c8c8c" stroke-width="1.0"/>
<ellipse cx="156.70" cy="290.80" rx="3.1" ry="3.1" fill="none" stroke="#8c8c8c" stroke-width="1.0"/>
<line x1="159.70" y1="291.00" x2="164.60" y2="291.00" stroke="#9a9a9a" stroke-width="2" shape-rendering="crispEdges"/>
<line x1="144.50" y1="283.00" x2="144.50" y2="298.80" stroke="#9a9a9a" stroke-width="1" shape-rendering="crispEdges"/>
<line x1="140.50" y1="290.50" x2="147.00" y2="290.50" stroke="#9a9a9a" stroke-width="1" shape-rendering="crispEdges"/>
<path d="M139.40,290.80 l2.8,-1.26 v2.52z" fill="#333"/>
<text x="139.10" y="302.00" font-size="3.1159999999999997" fill="#1a1a1a" font-family="Liberation Sans, sans-serif" textLength="19.0" lengthAdjust="spacingAndGlyphs" transform="rotate(-90 139.10 302.00)" stroke="#1a1a1a" stroke-width="0.14">0,5+j0,9</text>
<text x="142.00" y="305.00" font-size="4.3" fill="#1a1a1a" font-family="Liberation Sans, sans-serif" textLength="6.0" lengthAdjust="spacingAndGlyphs" stroke="#1a1a1a" stroke-width="0.2">33,7</text>
<line x1="179.20" y1="291.00" x2="184.50" y2="291.00" stroke="#9a9a9a" stroke-width="2" shape-rendering="crispEdges"/>
<ellipse cx="187.80" cy="290.80" rx="3.1" ry="3.1" fill="#fff" stroke="#8c8c8c" stroke-width="1.0"/>
<ellipse cx="190.80" cy="290.80" rx="3.1" ry="3.1" fill="none" stroke="#8c8c8c" stroke-width="1.0"/>
<line x1="198.50" y1="283.00" x2="198.50" y2="304.60" stroke="#aaaaaa" stroke-width="1" stroke-dasharray="2 1.6" shape-rendering="crispEdges"/>
<line x1="198.50" y1="298.50" x2="202.00" y2="298.50" stroke="#9a9a9a" stroke-width="1" shape-rendering="crispEdges"/>
<polyline points="201.40,296.80 203.20,298.00 201.40,299.20" fill="none" stroke="#444" stroke-width="0.7"/>
<text x="206.50" y="307.00" font-size="3.1159999999999997" fill="#1a1a1a" font-family="Liberation Sans, sans-serif" textLength="15.0" lengthAdjust="spacingAndGlyphs" transform="rotate(-90 206.50 307.00)" stroke="#1a1a1a" stroke-width="0.14">6,6+j4,6</text>
<text x="188.00" y="306.00" font-size="4.3" fill="#1a1a1a" font-family="Liberation Sans, sans-serif" textLength="7.0" lengthAdjust="spacingAndGlyphs" stroke="#1a1a1a" stroke-width="0.2">33,7</text>
<line x1="155.50" y1="319.50" x2="168.80" y2="319.50" stroke="#9a9a9a" stroke-width="1" shape-rendering="crispEdges"/>
<rect x="168.80" y="316.20" width="5.70" height="7.90" rx="0" fill="#fff" stroke="#9a9a9a" stroke-width="1.0"/>
<line x1="174.50" y1="319.50" x2="192.80" y2="319.50" stroke="#aaaaaa" stroke-width="1" stroke-dasharray="3 1.5" shape-rendering="crispEdges"/>
<text x="155.00" y="320.00" font-size="4.3" fill="#1a1a1a" font-family="Liberation Sans, sans-serif" textLength="9.0" lengthAdjust="spacingAndGlyphs" stroke="#1a1a1a" stroke-width="0.2">33,56</text>
<line x1="155.00" y1="321.50" x2="164.00" y2="321.50" stroke="#8a8a8a" stroke-width="1" shape-rendering="crispEdges"/>
<text x="185.00" y="319.00" font-size="4.3" fill="#1a1a1a" font-family="Liberation Sans, sans-serif" textLength="9.0" lengthAdjust="spacingAndGlyphs" stroke="#1a1a1a" stroke-width="0.2">33,61</text>
<line x1="213.50" y1="209.80" x2="213.50" y2="269.30" stroke="#9a9a9a" stroke-width="1" shape-rendering="crispEdges"/>
<line x1="213.50" y1="269.30" x2="248.00" y2="269.30" stroke="#9a9a9a" stroke-width="1.5"/>
<line x1="218.50" y1="209.80" x2="218.50" y2="261.30" stroke="#9a9a9a" stroke-width="1" shape-rendering="crispEdges"/>
<line x1="218.40" y1="261.50" x2="253.00" y2="261.50" stroke="#9a9a9a" stroke-width="1" shape-rendering="crispEdges"/>
<line x1="223.50" y1="209.80" x2="223.50" y2="246.50" stroke="#9a9a9a" stroke-width="1" shape-rendering="crispEdges"/>
<line x1="223.40" y1="246.50" x2="287.00" y2="246.50" stroke="#9a9a9a" stroke-width="1" shape-rendering="crispEdges"/>
<polyline points="287.00,246.50 288.50,250.00 287.00,254.40 283.00,254.40" fill="none" stroke="#9a9a9a" stroke-width="0.9"/>
<line x1="228.50" y1="209.80" x2="228.50" y2="239.50" stroke="#9a9a9a" stroke-width="1" shape-rendering="crispEdges"/>
<line x1="228.40" y1="239.50" x2="336.50" y2="239.50" stroke="#9a9a9a" stroke-width="1" shape-rendering="crispEdges"/>
<line x1="336.50" y1="239.50" x2="336.50" y2="283.50" stroke="#9a9a9a" stroke-width="1" shape-rendering="crispEdges"/>
<line x1="336.50" y1="283.50" x2="411.00" y2="283.50" stroke="#9a9a9a" stroke-width="1" shape-rendering="crispEdges"/>
<polyline points="411.00,276.40 411.80,277.15 410.20,278.65 411.80,280.15 410.20,281.65 411.80,283.15 411.00,283.50" fill="none" stroke="#939393" stroke-width="0.95"/>
<line x1="248.00" y1="232.00" x2="272.50" y2="232.00" stroke="#9a9a9a" stroke-width="2" shape-rendering="crispEdges"/>
<line x1="272.50" y1="232.00" x2="272.50" y2="254.50" stroke="#9a9a9a" stroke-width="1" shape-rendering="crispEdges"/>
<text x="262.00" y="230.40" font-size="4.3" fill="#1a1a1a" font-family="Liberation Sans, sans-serif" textLength="15.0" lengthAdjust="spacingAndGlyphs" stroke="#1a1a1a" stroke-width="0.2">16+j6,4→</text>
<text x="265.50" y="236.40" font-size="4" fill="#1a1a1a" font-family="Liberation Sans, sans-serif" textLength="4.5" lengthAdjust="spacingAndGlyphs" stroke="#1a1a1a" stroke-width="0.2">7→</text>
<text x="219.00" y="259.60" font-size="4.3" fill="#1a1a1a" font-family="Liberation Sans, sans-serif" textLength="14.0" lengthAdjust="spacingAndGlyphs" stroke="#1a1a1a" stroke-width="0.2">−j2,5→</text>
<line x1="219.00" y1="260.50" x2="233.00" y2="260.50" stroke="#8a8a8a" stroke-width="1" shape-rendering="crispEdges"/>
<text x="221.50" y="266.00" font-size="3.6" fill="#1a1a1a" font-family="Liberation Sans, sans-serif" stroke="#1a1a1a" stroke-width="0.2">⊣</text>
<text x="231.00" y="267.40" font-size="4.3" fill="#1a1a1a" font-family="Liberation Sans, sans-serif" textLength="16.0" lengthAdjust="spacingAndGlyphs" stroke="#1a1a1a" stroke-width="0.2">1,9+j0,6→</text>
<line x1="231.00" y1="268.50" x2="247.00" y2="268.50" stroke="#8a8a8a" stroke-width="1" shape-rendering="crispEdges"/>
<text x="235.00" y="274.00" font-size="4" fill="#1a1a1a" font-family="Liberation Sans, sans-serif" textLength="5.0" lengthAdjust="spacingAndGlyphs" stroke="#1a1a1a" stroke-width="0.2">9→</text>
<text x="237.00" y="245.40" font-size="4.3" fill="#1a1a1a" font-family="Liberation Sans, sans-serif" textLength="7.0" lengthAdjust="spacingAndGlyphs" font-style="italic" stroke="#1a1a1a" stroke-width="0.2">4,1→</text>
<text x="241.00" y="251.60" font-size="3.6" fill="#1a1a1a" font-family="Liberation Sans, sans-serif" textLength="4.0" lengthAdjust="spacingAndGlyphs" stroke="#1a1a1a" stroke-width="0.2">⊢⊣</text>
<polyline points="248.00,209.80 248.80,210.55 247.20,212.05 248.80,213.55 247.20,215.05 248.80,216.55 247.20,218.05 248.80,219.55 247.20,221.05 248.80,222.55 247.20,224.05 248.80,225.55 247.20,227.05 248.80,228.55 247.20,230.05 248.80,231.55 247.20,233.05 248.80,234.55 247.20,236.05 248.80,237.55 247.20,239.05 248.80,240.55 247.20,242.05 248.80,243.55 247.20,245.05 248.80,246.55 247.20,248.05 248.80,249.55 247.20,251.05 248.80,252.55 247.20,254.05 248.80,255.55 247.20,257.05 248.80,258.55 247.20,260.05 248.80,261.55 247.20,263.05 248.80,264.55 247.20,266.05 248.80,267.55 247.20,269.05 248.80,270.55 247.20,272.05 248.80,273.55 247.20,275.05 248.80,276.55 247.20,278.05 248.80,279.55 247.20,281.05 248.80,282.55 247.20,284.05 248.80,285.55 247.20,287.05 248.80,288.55 247.20,290.05 248.80,291.55 247.20,293.05 248.80,294.55 247.20,296.05 248.80,297.55 247.20,299.05 248.80,300.55 247.20,302.05 248.80,303.55 247.20,305.05 248.80,306.55 247.20,308.05 248.80,309.55 247.20,311.05 248.80,312.55 248.00,313.00" fill="none" stroke="#939393" stroke-width="0.95"/>
<line x1="248.00" y1="313.00" x2="336.50" y2="313.00" stroke="#9a9a9a" stroke-width="2" shape-rendering="crispEdges"/>
<line x1="336.50" y1="313.00" x2="336.50" y2="328.00" stroke="#9a9a9a" stroke-width="1" shape-rendering="crispEdges"/>
<polyline points="258.00,209.80 258.80,210.55 257.20,212.05 258.80,213.55 257.20,215.05 258.80,216.55 257.20,218.05 258.80,219.55 257.20,221.05 258.80,222.55 257.20,224.05 258.80,225.55 257.20,227.05 258.80,228.55 257.20,230.05 258.80,231.55 257.20,233.05 258.80,234.55 257.20,236.05 258.80,237.55 257.20,239.05 258.80,240.55 257.20,242.05 258.80,243.55 257.20,245.05 258.80,246.55 257.20,248.05 258.80,249.55 257.20,251.05 258.80,252.55 257.20,254.05 258.80,255.55 257.20,257.05 258.80,258.55 257.20,260.05 258.80,261.55 257.20,263.05 258.80,264.55 257.20,266.05 258.80,267.55 257.20,269.05 258.80,270.55 257.20,272.05 258.80,273.55 257.20,275.05 258.80,276.55 257.20,278.05 258.80,279.55 257.20,281.05 258.80,282.55 257.20,284.05 258.80,285.55 257.20,287.05 258.80,288.55 257.20,290.05 258.80,291.55 257.20,293.05 258.80,294.55 257.20,296.05 258.80,297.55 257.20,299.05 258.80,300.55 257.20,302.05 258.80,303.55 257.20,305.05 258.00,306.00" fill="none" stroke="#939393" stroke-width="0.95"/>
<line x1="258.00" y1="306.00" x2="326.50" y2="306.00" stroke="#9a9a9a" stroke-width="2" shape-rendering="crispEdges"/>
<line x1="326.50" y1="254.40" x2="326.50" y2="306.00" stroke="#9a9a9a" stroke-width="1" shape-rendering="crispEdges"/>
<polyline points="253.00,261.30 253.80,262.05 252.20,263.55 253.80,265.05 252.20,266.55 253.80,268.05 252.20,269.55 253.80,271.05 252.20,272.55 253.80,274.05 252.20,275.55 253.80,277.05 252.20,278.55 253.80,280.05 252.20,281.55 253.80,283.05 252.20,284.55 253.80,286.05 252.20,287.55 253.80,289.05 252.20,290.55 253.80,292.05 252.20,293.55 253.80,295.05 252.20,296.55 253.80,298.05 253.00,298.50" fill="none" stroke="#939393" stroke-width="0.95"/>
<line x1="253.00" y1="298.50" x2="302.60" y2="298.50" stroke="#9a9a9a" stroke-width="1" shape-rendering="crispEdges"/>
<polyline points="302.60,254.40 303.40,255.15 301.80,256.65 303.40,258.15 301.80,259.65 303.40,261.15 301.80,262.65 303.40,264.15 301.80,265.65 303.40,267.15 301.80,268.65 303.40,270.15 301.80,271.65 303.40,273.15 301.80,274.65 303.40,276.15 301.80,277.65 303.40,279.15 301.80,280.65 303.40,282.15 301.80,283.65 303.40,285.15 301.80,286.65 303.40,288.15 301.80,289.65 303.40,291.15 301.80,292.65 303.40,294.15 301.80,295.65 303.40,297.15 302.60,298.50" fill="none" stroke="#939393" stroke-width="0.95"/>
<line x1="200.00" y1="276.50" x2="244.00" y2="276.50" stroke="#9a9a9a" stroke-width="1" shape-rendering="crispEdges"/>
<line x1="268.40" y1="254.50" x2="279.80" y2="254.50" stroke="#9a9a9a" stroke-width="1" shape-rendering="crispEdges"/>
<line x1="282.80" y1="254.50" x2="292.00" y2="254.50" stroke="#9a9a9a" stroke-width="1" shape-rendering="crispEdges"/>
<line x1="297.20" y1="254.50" x2="306.70" y2="254.50" stroke="#9a9a9a" stroke-width="1" shape-rendering="crispEdges"/>
<line x1="317.00" y1="254.50" x2="331.50" y2="254.50" stroke="#9a9a9a" stroke-width="1" shape-rendering="crispEdges"/>
<text x="262.00" y="251.00" font-size="4.3" fill="#1a1a1a" font-family="Liberation Sans, sans-serif" textLength="7.0" lengthAdjust="spacingAndGlyphs" stroke="#1a1a1a" stroke-width="0.2">33,94</text>
<text x="262.00" y="259.20" font-size="4.4" fill="#1a1a1a" font-family="Liberation Sans, sans-serif" textLength="19.0" lengthAdjust="spacingAndGlyphs" font-weight="bold" stroke="#1a1a1a" stroke-width="0.2">Западная 2</text>
<text x="283.00" y="269.40" font-size="4.4" fill="#1a1a1a" font-family="Liberation Sans, sans-serif" textLength="20.0" lengthAdjust="spacingAndGlyphs" stroke="#1a1a1a" stroke-width="0.2">Западная 1</text>
<line x1="283.00" y1="270.50" x2="303.00" y2="270.50" stroke="#8a8a8a" stroke-width="1" shape-rendering="crispEdges"/>
<text x="289.00" y="252.00" font-size="4.3" fill="#1a1a1a" font-family="Liberation Sans, sans-serif" textLength="6.0" lengthAdjust="spacingAndGlyphs" stroke="#1a1a1a" stroke-width="0.2">33,4</text>
<text x="301.00" y="251.60" font-size="4.3" fill="#1a1a1a" font-family="Liberation Sans, sans-serif" textLength="7.0" lengthAdjust="spacingAndGlyphs" stroke="#1a1a1a" stroke-width="0.2">33,4</text>
<text x="315.00" y="251.60" font-size="4.3" fill="#1a1a1a" font-family="Liberation Sans, sans-serif" textLength="8.0" lengthAdjust="spacingAndGlyphs" stroke="#1a1a1a" stroke-width="0.2">33,65</text>
<text x="299.00" y="246.40" font-size="4.2" fill="#1a1a1a" font-family="Liberation Sans, sans-serif" textLength="15.0" lengthAdjust="spacingAndGlyphs" stroke="#1a1a1a" stroke-width="0.2">Доверит 4</text>
<text x="256.10" y="275.00" font-size="3.1159999999999997" fill="#1a1a1a" font-family="Liberation Sans, sans-serif" textLength="25.0" lengthAdjust="spacingAndGlyphs" transform="rotate(-90 256.10 275.00)" stroke="#1a1a1a" stroke-width="0.14">←16,2+j3,4→</text>
<text x="334.70" y="267.00" font-size="2.952" fill="#1a1a1a" font-family="Liberation Sans, sans-serif" textLength="22.0" lengthAdjust="spacingAndGlyphs" transform="rotate(-90 334.70 267.00)" stroke="#1a1a1a" stroke-width="0.14">Автодинам 1</text>
<text x="324.90" y="290.00" font-size="2.952" fill="#1a1a1a" font-family="Liberation Sans, sans-serif" textLength="18.0" lengthAdjust="spacingAndGlyphs" transform="rotate(-90 324.90 290.00)" stroke="#1a1a1a" stroke-width="0.14">38,7+j4,5</text>
<text x="328.70" y="285.00" font-size="2.952" fill="#1a1a1a" font-family="Liberation Sans, sans-serif" textLength="10.0" lengthAdjust="spacingAndGlyphs" transform="rotate(-90 328.70 285.00)" stroke="#1a1a1a" stroke-width="0.14">←7,3</text>
<text x="340.00" y="281.40" font-size="4.3" fill="#1a1a1a" font-family="Liberation Sans, sans-serif" textLength="19.0" lengthAdjust="spacingAndGlyphs" stroke="#1a1a1a" stroke-width="0.2">←58,7+j13,3</text>
<text x="342.50" y="288.40" font-size="4" fill="#1a1a1a" font-family="Liberation Sans, sans-serif" textLength="8.0" lengthAdjust="spacingAndGlyphs" stroke="#1a1a1a" stroke-width="0.2">←194</text>
<line x1="326.50" y1="298.50" x2="361.30" y2="298.50" stroke="#9a9a9a" stroke-width="1" shape-rendering="crispEdges"/>
<text x="341.00" y="296.00" font-size="4.3" fill="#1a1a1a" font-family="Liberation Sans, sans-serif" textLength="14.0" lengthAdjust="spacingAndGlyphs" stroke="#1a1a1a" stroke-width="0.2">13+j2,4→</text>
<text x="345.00" y="303.00" font-size="4" fill="#777" font-family="Liberation Sans, sans-serif" textLength="5.0" lengthAdjust="spacingAndGlyphs" stroke="#777" stroke-width="0.2">7→</text>
<text x="405.00" y="233.00" font-size="4.2" fill="#1a1a1a" font-family="Liberation Sans, sans-serif" textLength="13.0" lengthAdjust="spacingAndGlyphs" font-weight="bold" stroke="#1a1a1a" stroke-width="0.2">Боровая 2</text>
<text x="422.00" y="232.60" font-size="4.2" fill="#1a1a1a" font-family="Liberation Sans, sans-serif" textLength="14.0" lengthAdjust="spacingAndGlyphs" stroke="#1a1a1a" stroke-width="0.2">Очистн 1</text>
<line x1="405.40" y1="246.50" x2="414.60" y2="246.50" stroke="#9a9a9a" stroke-width="1" shape-rendering="crispEdges"/>
<line x1="410.50" y1="240.50" x2="410.50" y2="246.20" stroke="#9a9a9a" stroke-width="1" shape-rendering="crispEdges"/>
<path d="M410.40,239.60 l-1.26,2.8 h2.52z" fill="#555"/>
<line x1="420.40" y1="246.50" x2="429.50" y2="246.50" stroke="#9a9a9a" stroke-width="1" shape-rendering="crispEdges"/>
<line x1="424.50" y1="240.50" x2="424.50" y2="246.20" stroke="#9a9a9a" stroke-width="1" shape-rendering="crispEdges"/>
<path d="M424.80,239.60 l-1.26,2.8 h2.52z" fill="#555"/>
<line x1="439.40" y1="246.50" x2="449.40" y2="246.50" stroke="#9a9a9a" stroke-width="1" shape-rendering="crispEdges"/>
<line x1="444.50" y1="240.50" x2="444.50" y2="246.20" stroke="#9a9a9a" stroke-width="1" shape-rendering="crispEdges"/>
<path d="M444.40,239.60 l-1.26,2.8 h2.52z" fill="#555"/>
<line x1="454.30" y1="246.50" x2="464.30" y2="246.50" stroke="#aaaaaa" stroke-width="1" stroke-dasharray="4 2" shape-rendering="crispEdges"/>
<text x="406.00" y="238.40" font-size="4" fill="#1a1a1a" font-family="Liberation Sans, sans-serif" textLength="8.0" lengthAdjust="spacingAndGlyphs" stroke="#1a1a1a" stroke-width="0.2">17+j5</text>
<text x="421.00" y="238.40" font-size="4" fill="#1a1a1a" font-family="Liberation Sans, sans-serif" textLength="7.0" lengthAdjust="spacingAndGlyphs" stroke="#1a1a1a" stroke-width="0.2">8+j4</text>
<text x="439.00" y="238.60" font-size="4" fill="#1a1a1a" font-family="Liberation Sans, sans-serif" textLength="10.0" lengthAdjust="spacingAndGlyphs" stroke="#1a1a1a" stroke-width="0.2">12+j17</text>
<text x="411.00" y="252.00" font-size="4.3" fill="#1a1a1a" font-family="Liberation Sans, sans-serif" textLength="6.5" lengthAdjust="spacingAndGlyphs" stroke="#1a1a1a" stroke-width="0.2">33,9</text>
<text x="426.00" y="251.60" font-size="4.3" fill="#1a1a1a" font-family="Liberation Sans, sans-serif" textLength="7.0" lengthAdjust="spacingAndGlyphs" stroke="#1a1a1a" stroke-width="0.2">34,87</text>
<text x="444.00" y="251.00" font-size="4.3" fill="#1a1a1a" font-family="Liberation Sans, sans-serif" textLength="6.0" lengthAdjust="spacingAndGlyphs" stroke="#1a1a1a" stroke-width="0.2">35,8</text>
<text x="461.00" y="251.00" font-size="4.3" fill="#1a1a1a" font-family="Liberation Sans, sans-serif" textLength="5.0" lengthAdjust="spacingAndGlyphs" font-weight="bold" stroke="#1a1a1a" stroke-width="0.2">Wh</text>
<rect x="407.30" y="260.60" width="6.20" height="7.80" rx="2" fill="#fff" stroke="#8c8c8c" stroke-width="1.0"/>
<path d="M407.30,261.60 A3.10,6.2 0 0 1 413.50,261.60" fill="none" stroke="#aaaaaa" stroke-width="0.9" stroke-dasharray="1.4 1"/>
<line x1="410.50" y1="268.40" x2="410.50" y2="276.40" stroke="#aaaaaa" stroke-width="1" shape-rendering="crispEdges"/>
<rect x="421.70" y="260.60" width="6.20" height="7.80" rx="2" fill="#fff" stroke="#8c8c8c" stroke-width="1.0"/>
<path d="M421.70,261.60 A3.10,6.2 0 0 1 427.90,261.60" fill="none" stroke="#aaaaaa" stroke-width="0.9" stroke-dasharray="1.4 1"/>
<line x1="424.50" y1="268.40" x2="424.50" y2="276.40" stroke="#aaaaaa" stroke-width="1" shape-rendering="crispEdges"/>
<rect x="441.30" y="260.60" width="6.20" height="7.80" rx="2" fill="#e8e8e8" stroke="#8c8c8c" stroke-width="1.0"/>
<path d="M441.30,261.60 A3.10,6.2 0 0 1 447.50,261.60" fill="none" stroke="#aaaaaa" stroke-width="0.9" stroke-dasharray="1.4 1"/>
<line x1="444.50" y1="268.40" x2="444.50" y2="276.40" stroke="#aaaaaa" stroke-width="1" shape-rendering="crispEdges"/>
<rect x="456.20" y="260.60" width="6.20" height="7.80" rx="2" fill="#fff" stroke="#8c8c8c" stroke-width="1.0"/>
<path d="M456.20,261.60 A3.10,6.2 0 0 1 462.40,261.60" fill="none" stroke="#aaaaaa" stroke-width="0.9" stroke-dasharray="1.4 1"/>
<line x1="459.50" y1="268.40" x2="459.50" y2="276.40" stroke="#aaaaaa" stroke-width="1" shape-rendering="crispEdges"/>
<text x="438.50" y="275.00" font-size="3.1159999999999997" fill="#1a1a1a" font-family="Liberation Sans, sans-serif" textLength="24.0" lengthAdjust="spacingAndGlyphs" transform="rotate(-90 438.50 275.00)" stroke="#1a1a1a" stroke-width="0.14">Очистная 2</text>
<text x="467.50" y="278.00" font-size="3.1159999999999997" fill="#1a1a1a" font-family="Liberation Sans, sans-serif" textLength="22.0" lengthAdjust="spacingAndGlyphs" transform="rotate(-90 467.50 278.00)" stroke="#1a1a1a" stroke-width="0.14">Комиссия 2</text>
<line x1="405.40" y1="276.50" x2="429.50" y2="276.50" stroke="#9a9a9a" stroke-width="1" shape-rendering="crispEdges"/>
<line x1="439.40" y1="276.50" x2="464.30" y2="276.50" stroke="#9a9a9a" stroke-width="1" shape-rendering="crispEdges"/>
<text x="399.00" y="274.00" font-size="4.3" fill="#1a1a1a" font-family="Liberation Sans, sans-serif" textLength="7.0" lengthAdjust="spacingAndGlyphs" stroke="#1a1a1a" stroke-width="0.2">10,47</text>
<text x="414.00" y="274.00" font-size="4.3" fill="#1a1a1a" font-family="Liberation Sans, sans-serif" textLength="7.0" lengthAdjust="spacingAndGlyphs" stroke="#1a1a1a" stroke-width="0.2">10,38</text>
<text x="446.00" y="270.00" font-size="4.3" fill="#1a1a1a" font-family="Liberation Sans, sans-serif" textLength="8.0" lengthAdjust="spacingAndGlyphs" stroke="#1a1a1a" stroke-width="0.2">33,64</text>
<text x="450.00" y="275.20" font-size="4.3" fill="#1a1a1a" font-family="Liberation Sans, sans-serif" textLength="8.0" lengthAdjust="spacingAndGlyphs" stroke="#1a1a1a" stroke-width="0.2">10,67</text>
<line x1="424.50" y1="276.40" x2="424.50" y2="283.30" stroke="#9a9a9a" stroke-width="1" shape-rendering="crispEdges"/>
<line x1="424.80" y1="283.50" x2="444.40" y2="283.50" stroke="#9a9a9a" stroke-width="1" shape-rendering="crispEdges"/>
<line x1="444.50" y1="276.40" x2="444.50" y2="283.30" stroke="#9a9a9a" stroke-width="1" shape-rendering="crispEdges"/>
<text x="425.00" y="282.60" font-size="4.3" fill="#1a1a1a" font-family="Liberation Sans, sans-serif" textLength="18.0" lengthAdjust="spacingAndGlyphs" stroke="#1a1a1a" stroke-width="0.2">←36,4+j20,6</text>
<line x1="425.00" y1="283.50" x2="443.00" y2="283.50" stroke="#8a8a8a" stroke-width="1" shape-rendering="crispEdges"/>
<text x="426.50" y="288.00" font-size="4" fill="#1a1a1a" font-family="Liberation Sans, sans-serif" textLength="6.0" lengthAdjust="spacingAndGlyphs" stroke="#1a1a1a" stroke-width="0.2">&lt;45</text>
<line x1="459.50" y1="276.40" x2="459.50" y2="283.30" stroke="#9a9a9a" stroke-width="1" shape-rendering="crispEdges"/>
<line x1="459.30" y1="283.50" x2="474.00" y2="283.50" stroke="#9a9a9a" stroke-width="1" shape-rendering="crispEdges"/>
<line x1="375.50" y1="291.00" x2="513.50" y2="291.00" stroke="#9a9a9a" stroke-width="2" shape-rendering="crispEdges"/>
<line x1="375.50" y1="291.00" x2="375.50" y2="364.60" stroke="#9a9a9a" stroke-width="1" shape-rendering="crispEdges"/>
<line x1="336.50" y1="364.50" x2="375.50" y2="364.50" stroke="#9a9a9a" stroke-width="1" shape-rendering="crispEdges"/>
<line x1="336.50" y1="364.60" x2="336.50" y2="380.00" stroke="#9a9a9a" stroke-width="1" shape-rendering="crispEdges"/>
<line x1="385.50" y1="298.50" x2="385.50" y2="320.70" stroke="#9a9a9a" stroke-width="1" shape-rendering="crispEdges"/>
<text x="421.00" y="297.40" font-size="4.3" fill="#1a1a1a" font-family="Liberation Sans, sans-serif" textLength="16.0" lengthAdjust="spacingAndGlyphs" stroke="#1a1a1a" stroke-width="0.2">←0,9+j2,3</text>
<text x="433.00" y="302.60" font-size="3.8" fill="#1a1a1a" font-family="Liberation Sans, sans-serif" textLength="4.0" lengthAdjust="spacingAndGlyphs" stroke="#1a1a1a" stroke-width="0.2">←3</text>
<line x1="400.60" y1="306.00" x2="474.10" y2="306.00" stroke="#9a9a9a" stroke-width="2" shape-rendering="crispEdges"/>
<line x1="400.50" y1="306.00" x2="400.50" y2="320.70" stroke="#9a9a9a" stroke-width="1" shape-rendering="crispEdges"/>
<line x1="439.50" y1="298.50" x2="439.50" y2="320.00" stroke="#9a9a9a" stroke-width="1" shape-rendering="crispEdges"/>
<text x="402.00" y="304.60" font-size="4.3" fill="#1a1a1a" font-family="Liberation Sans, sans-serif" textLength="15.0" lengthAdjust="spacingAndGlyphs" stroke="#1a1a1a" stroke-width="0.2">←22+j4,2</text>
<text x="440.00" y="304.60" font-size="4.3" fill="#1a1a1a" font-family="Liberation Sans, sans-serif" textLength="16.0" lengthAdjust="spacingAndGlyphs" stroke="#1a1a1a" stroke-width="0.2">←42+j18</text>
<text x="449.50" y="310.40" font-size="3.6" fill="#1a1a1a" font-family="Liberation Sans, sans-serif" textLength="4.0" lengthAdjust="spacingAndGlyphs" stroke="#1a1a1a" stroke-width="0.2">⊢⊣</text>
<text x="493.00" y="290.00" font-size="4.3" fill="#1a1a1a" font-family="Liberation Sans, sans-serif" textLength="18.0" lengthAdjust="spacingAndGlyphs" stroke="#1a1a1a" stroke-width="0.2">←29,8+j2,3</text>
<text x="506.00" y="295.60" font-size="4" fill="#1a1a1a" font-family="Liberation Sans, sans-serif" textLength="6.0" lengthAdjust="spacingAndGlyphs" stroke="#1a1a1a" stroke-width="0.2">&lt;44</text>
<line x1="381.20" y1="313.20" x2="391.20" y2="313.20" stroke="#9a9a9a" stroke-width="1.3"/>
<line x1="395.70" y1="313.20" x2="405.30" y2="313.20" stroke="#9a9a9a" stroke-width="1.3"/>
<line x1="414.60" y1="313.20" x2="429.50" y2="313.20" stroke="#9a9a9a" stroke-width="1.3"/>
<line x1="435.50" y1="313.20" x2="444.60" y2="313.20" stroke="#9a9a9a" stroke-width="1.3"/>
<text x="387.00" y="310.60" font-size="4.3" fill="#1a1a1a" font-family="Liberation Sans, sans-serif" textLength="7.0" lengthAdjust="spacingAndGlyphs" stroke="#1a1a1a" stroke-width="0.2">35,77</text>
<text x="402.00" y="310.60" font-size="4.3" fill="#1a1a1a" font-family="Liberation Sans, sans-serif" textLength="9.0" lengthAdjust="spacingAndGlyphs" stroke="#1a1a1a" stroke-width="0.2">36,067</text>
<line x1="402.00" y1="311.50" x2="411.00" y2="311.50" stroke="#8a8a8a" stroke-width="1" shape-rendering="crispEdges"/>
<text x="413.00" y="311.00" font-size="4.3" fill="#1a1a1a" font-family="Liberation Sans, sans-serif" textLength="14.0" lengthAdjust="spacingAndGlyphs" stroke="#1a1a1a" stroke-width="0.2">←0,1+j0,4</text>
<line x1="413.00" y1="312.50" x2="427.00" y2="312.50" stroke="#8a8a8a" stroke-width="1" shape-rendering="crispEdges"/>
<text x="447.00" y="315.60" font-size="4.3" fill="#1a1a1a" font-family="Liberation Sans, sans-serif" textLength="7.0" lengthAdjust="spacingAndGlyphs" stroke="#1a1a1a" stroke-width="0.2">38,1</text>
<rect x="382.40" y="320.70" width="6.00" height="8.20" rx="2" fill="#fff" stroke="#8c8c8c" stroke-width="1.0"/>
<path d="M382.40,327.90 A3.00,6.2 0 0 0 388.40,327.90" fill="none" stroke="#aaaaaa" stroke-width="0.9" stroke-dasharray="1.4 1"/>
<line x1="385.50" y1="334.00" x2="385.50" y2="342.70" stroke="#aaaaaa" stroke-width="1" stroke-dasharray="1.2 1.4" shape-rendering="crispEdges"/>
<rect x="397.60" y="320.70" width="6.00" height="8.20" rx="2" fill="#fff" stroke="#8c8c8c" stroke-width="1.0"/>
<path d="M397.60,327.90 A3.00,6.2 0 0 0 403.60,327.90" fill="none" stroke="#aaaaaa" stroke-width="0.9" stroke-dasharray="1.4 1"/>
<line x1="400.50" y1="334.00" x2="400.50" y2="342.70" stroke="#aaaaaa" stroke-width="1" stroke-dasharray="1.2 1.4" shape-rendering="crispEdges"/>
<rect x="417.20" y="320.70" width="6.00" height="8.20" rx="2" fill="#fff" stroke="#8c8c8c" stroke-width="1.0"/>
<path d="M417.20,327.90 A3.00,6.2 0 0 0 423.20,327.90" fill="none" stroke="#aaaaaa" stroke-width="0.9" stroke-dasharray="1.4 1"/>
<line x1="420.50" y1="334.00" x2="420.50" y2="342.70" stroke="#aaaaaa" stroke-width="1" stroke-dasharray="1.2 1.4" shape-rendering="crispEdges"/>
<rect x="436.40" y="320.70" width="6.00" height="8.20" rx="2" fill="#fff" stroke="#8c8c8c" stroke-width="1.0"/>
<path d="M436.40,327.90 A3.00,6.2 0 0 0 442.40,327.90" fill="none" stroke="#aaaaaa" stroke-width="0.9" stroke-dasharray="1.4 1"/>
<line x1="439.50" y1="334.00" x2="439.50" y2="342.70" stroke="#aaaaaa" stroke-width="1" stroke-dasharray="1.2 1.4" shape-rendering="crispEdges"/>
<line x1="379.50" y1="342.50" x2="390.80" y2="342.50" stroke="#9a9a9a" stroke-width="1" shape-rendering="crispEdges"/>
<line x1="395.30" y1="342.50" x2="406.00" y2="342.50" stroke="#9a9a9a" stroke-width="1" shape-rendering="crispEdges"/>
<line x1="415.20" y1="342.50" x2="425.10" y2="342.50" stroke="#9a9a9a" stroke-width="1" shape-rendering="crispEdges"/>
<line x1="435.00" y1="342.50" x2="444.70" y2="342.50" stroke="#9a9a9a" stroke-width="1" shape-rendering="crispEdges"/>
<line x1="420.50" y1="313.20" x2="420.50" y2="320.70" stroke="#aaaaaa" stroke-width="1" stroke-dasharray="1.2 1.4" shape-rendering="crispEdges"/>
<text x="379.00" y="340.80" font-size="4.3" fill="#1a1a1a" font-family="Liberation Sans, sans-serif" textLength="9.0" lengthAdjust="spacingAndGlyphs" stroke="#1a1a1a" stroke-width="0.2">10,64</text>
<line x1="379.00" y1="342.50" x2="388.00" y2="342.50" stroke="#8a8a8a" stroke-width="1" shape-rendering="crispEdges"/>
<text x="402.00" y="340.60" font-size="4.3" fill="#1a1a1a" font-family="Liberation Sans, sans-serif" textLength="8.0" lengthAdjust="spacingAndGlyphs" stroke="#1a1a1a" stroke-width="0.2">10,55</text>
<text x="414.00" y="340.20" font-size="4.4" fill="#1a1a1a" font-family="Liberation Sans, sans-serif" textLength="18.0" lengthAdjust="spacingAndGlyphs" font-weight="bold" stroke="#1a1a1a" stroke-width="0.2">Боровая 2</text>
<text x="443.00" y="340.60" font-size="4.3" fill="#1a1a1a" font-family="Liberation Sans, sans-serif" textLength="6.0" lengthAdjust="spacingAndGlyphs" stroke="#1a1a1a" stroke-width="0.2">9,45</text>
<line x1="385.50" y1="342.70" x2="385.50" y2="348.00" stroke="#9a9a9a" stroke-width="1" shape-rendering="crispEdges"/>
<path d="M385.40,349.60 l-1.26,-2.8 h2.52z" fill="#777"/>
<line x1="400.50" y1="342.70" x2="400.50" y2="348.00" stroke="#9a9a9a" stroke-width="1" shape-rendering="crispEdges"/>
<path d="M400.60,349.60 l-1.26,-2.8 h2.52z" fill="#777"/>
<line x1="420.50" y1="342.70" x2="420.50" y2="348.00" stroke="#9a9a9a" stroke-width="1" shape-rendering="crispEdges"/>
<path d="M420.20,349.60 l-1.26,-2.8 h2.52z" fill="#777"/>
<line x1="439.50" y1="342.70" x2="439.50" y2="348.00" stroke="#9a9a9a" stroke-width="1" shape-rendering="crispEdges"/>
<path d="M439.40,349.60 l-1.26,-2.8 h2.52z" fill="#777"/>
<text x="379.00" y="354.60" font-size="4.3" fill="#1a1a1a" font-family="Liberation Sans, sans-serif" textLength="10.0" lengthAdjust="spacingAndGlyphs" stroke="#1a1a1a" stroke-width="0.2">0,7+j2</text>
<text x="397.00" y="355.00" font-size="4.3" fill="#1a1a1a" font-family="Liberation Sans, sans-serif" textLength="8.0" lengthAdjust="spacingAndGlyphs" stroke="#1a1a1a" stroke-width="0.2">4,6+j5</text>
<text x="414.00" y="354.00" font-size="4.3" fill="#1a1a1a" font-family="Liberation Sans, sans-serif" textLength="9.0" lengthAdjust="spacingAndGlyphs" font-weight="bold" stroke="#1a1a1a" stroke-width="0.2">1,8+j0,4</text>
<text x="435.00" y="354.60" font-size="4.3" fill="#1a1a1a" font-family="Liberation Sans, sans-serif" textLength="9.0" lengthAdjust="spacingAndGlyphs" stroke="#1a1a1a" stroke-width="0.2">1,4+j0,4</text>
<text x="381.00" y="360.60" font-size="4.2" fill="#1a1a1a" font-family="Liberation Sans, sans-serif" textLength="11.0" lengthAdjust="spacingAndGlyphs" stroke="#1a1a1a" stroke-width="0.2">Ожог 2</text>
<text x="394.00" y="361.00" font-size="4.2" fill="#1a1a1a" font-family="Liberation Sans, sans-serif" textLength="11.0" lengthAdjust="spacingAndGlyphs" stroke="#1a1a1a" stroke-width="0.2">Ново 1</text>
<text x="413.00" y="359.20" font-size="4.2" fill="#1a1a1a" font-family="Liberation Sans, sans-serif" textLength="14.0" lengthAdjust="spacingAndGlyphs" font-weight="bold" stroke="#1a1a1a" stroke-width="0.2">Комисс 1</text>
<line x1="552.50" y1="232.00" x2="552.50" y2="298.50" stroke="#aaaaaa" stroke-width="1" shape-rendering="crispEdges"/>
<line x1="567.50" y1="239.40" x2="567.50" y2="298.50" stroke="#aaaaaa" stroke-width="1" shape-rendering="crispEdges"/>
<line x1="542.80" y1="239.50" x2="557.40" y2="239.50" stroke="#9a9a9a" stroke-width="1" shape-rendering="crispEdges"/>
<rect x="557.40" y="235.60" width="5.20" height="7.40" rx="0" fill="#fff" stroke="#9a9a9a" stroke-width="1.0"/>
<line x1="562.60" y1="239.50" x2="581.00" y2="239.50" stroke="#9a9a9a" stroke-width="1" shape-rendering="crispEdges"/>
<text x="542.00" y="237.60" font-size="4.3" fill="#1a1a1a" font-family="Liberation Sans, sans-serif" textLength="9.0" lengthAdjust="spacingAndGlyphs" stroke="#1a1a1a" stroke-width="0.2">133,69</text>
<text x="577.00" y="237.60" font-size="4.3" fill="#1a1a1a" font-family="Liberation Sans, sans-serif" textLength="9.0" lengthAdjust="spacingAndGlyphs" stroke="#1a1a1a" stroke-width="0.2">133,99</text>
<text x="577.00" y="223.00" font-size="4.3" fill="#1a1a1a" font-family="Liberation Sans, sans-serif" textLength="14.0" lengthAdjust="spacingAndGlyphs" stroke="#1a1a1a" stroke-width="0.2">7,2+j5,9→</text>
<text x="581.50" y="229.60" font-size="4" fill="#1a1a1a" font-family="Liberation Sans, sans-serif" textLength="5.0" lengthAdjust="spacingAndGlyphs" stroke="#1a1a1a" stroke-width="0.2">2→</text>
<rect x="550.20" y="247.20" width="5.00" height="14.00" rx="2.50" fill="#fff"/>
<path d="M550.20,252.70 V249.70 A2.50,2.50 0 0 1 555.20,249.70 V252.70" fill="none" stroke="#9c9c9c" stroke-width="0.9"/>
<rect x="549.90" y="252.50" width="5.60" height="3.2" fill="#858585"/>
<path d="M550.20,255.70 V258.40 Q550.20,260.40 552.70,261.20 Q555.20,260.40 555.20,258.40 V255.70" fill="none" stroke="#8c8c8c" stroke-width="1"/>
<rect x="550.20" y="276.20" width="5.00" height="14.00" rx="2.50" fill="#fff"/>
<path d="M550.20,281.70 V278.70 A2.50,2.50 0 0 1 555.20,278.70 V281.70" fill="none" stroke="#9c9c9c" stroke-width="0.9"/>
<rect x="549.90" y="281.50" width="5.60" height="3.2" fill="#a6a6a6"/>
<path d="M550.20,284.70 V287.40 Q550.20,289.40 552.70,290.20 Q555.20,289.40 555.20,287.40 V284.70" fill="none" stroke="#8c8c8c" stroke-width="1"/>
<rect x="564.90" y="247.20" width="5.00" height="14.00" rx="2.50" fill="#fff"/>
<path d="M564.90,252.70 V249.70 A2.50,2.50 0 0 1 569.90,249.70 V252.70" fill="none" stroke="#9c9c9c" stroke-width="0.9"/>
<rect x="564.60" y="252.50" width="5.60" height="3.2" fill="#858585"/>
<path d="M564.90,255.70 V258.40 Q564.90,260.40 567.40,261.20 Q569.90,260.40 569.90,258.40 V255.70" fill="none" stroke="#8c8c8c" stroke-width="1"/>
<rect x="564.90" y="276.20" width="5.00" height="14.00" rx="2.50" fill="#fff"/>
<path d="M564.90,281.70 V278.70 A2.50,2.50 0 0 1 569.90,278.70 V281.70" fill="none" stroke="#9c9c9c" stroke-width="0.9"/>
<rect x="564.60" y="281.50" width="5.60" height="3.2" fill="#a6a6a6"/>
<path d="M564.90,284.70 V287.40 Q564.90,289.40 567.40,290.20 Q569.90,289.40 569.90,287.40 V284.70" fill="none" stroke="#8c8c8c" stroke-width="1"/>
<text x="529.00" y="258.00" font-size="4.4" fill="#1a1a1a" font-family="Liberation Sans, sans-serif" textLength="17.0" lengthAdjust="spacingAndGlyphs" stroke="#1a1a1a" stroke-width="0.2">Ишимская 2</text>
<text x="572.00" y="257.00" font-size="4.4" fill="#1a1a1a" font-family="Liberation Sans, sans-serif" textLength="16.0" lengthAdjust="spacingAndGlyphs" stroke="#1a1a1a" stroke-width="0.2">Ишимская 1</text>
<text x="558.10" y="268.00" font-size="3.1159999999999997" fill="#1a1a1a" font-family="Liberation Sans, sans-serif" textLength="22.0" lengthAdjust="spacingAndGlyphs" transform="rotate(-90 558.10 268.00)" stroke="#1a1a1a" stroke-width="0.14">←4,8+j0,86</text>
<text x="563.70" y="268.00" font-size="3.1159999999999997" fill="#1a1a1a" font-family="Liberation Sans, sans-serif" textLength="22.0" lengthAdjust="spacingAndGlyphs" transform="rotate(-90 563.70 268.00)" stroke="#1a1a1a" stroke-width="0.14">←7,2+j5</text>
<text x="558.10" y="292.00" font-size="3.1159999999999997" fill="#1a1a1a" font-family="Liberation Sans, sans-serif" textLength="21.0" lengthAdjust="spacingAndGlyphs" transform="rotate(-90 558.10 292.00)" stroke="#1a1a1a" stroke-width="0.14">→4,8+j0,86</text>
<text x="563.70" y="292.00" font-size="3.1159999999999997" fill="#1a1a1a" font-family="Liberation Sans, sans-serif" textLength="21.0" lengthAdjust="spacingAndGlyphs" transform="rotate(-90 563.70 292.00)" stroke="#1a1a1a" stroke-width="0.14">←7,2+j5,5</text>
<ellipse cx="542.20" cy="268.80" rx="3.1" ry="3.1" fill="#fff" stroke="#8c8c8c" stroke-width="1.0"/>
<ellipse cx="545.20" cy="268.80" rx="3.1" ry="3.1" fill="none" stroke="#8c8c8c" stroke-width="1.0"/>
<line x1="548.20" y1="269.00" x2="552.70" y2="269.00" stroke="#9a9a9a" stroke-width="2" shape-rendering="crispEdges"/>
<line x1="532.50" y1="263.00" x2="532.50" y2="276.00" stroke="#9a9a9a" stroke-width="1" shape-rendering="crispEdges"/>
<line x1="529.60" y1="268.50" x2="536.00" y2="268.50" stroke="#9a9a9a" stroke-width="1" shape-rendering="crispEdges"/>
<path d="M528.60,268.80 l2.8,-1.26 v2.52z" fill="#333"/>
<text x="524.00" y="264.00" font-size="4.3" fill="#1a1a1a" font-family="Liberation Sans, sans-serif" textLength="9.0" lengthAdjust="spacingAndGlyphs" stroke="#1a1a1a" stroke-width="0.2">32,1,63</text>
<line x1="524.00" y1="265.50" x2="533.00" y2="265.50" stroke="#8a8a8a" stroke-width="1" shape-rendering="crispEdges"/>
<text x="527.00" y="281.60" font-size="4.3" fill="#1a1a1a" font-family="Liberation Sans, sans-serif" textLength="12.0" lengthAdjust="spacingAndGlyphs" stroke="#1a1a1a" stroke-width="0.2">12+j5,9</text>
<line x1="567.40" y1="269.00" x2="572.00" y2="269.00" stroke="#9a9a9a" stroke-width="2" shape-rendering="crispEdges"/>
<ellipse cx="575.30" cy="268.80" rx="3.1" ry="3.1" fill="#fff" stroke="#8c8c8c" stroke-width="1.0"/>
<ellipse cx="578.30" cy="268.80" rx="3.1" ry="3.1" fill="none" stroke="#8c8c8c" stroke-width="1.0"/>
<line x1="581.50" y1="268.50" x2="586.00" y2="268.50" stroke="#aaaaaa" stroke-width="1" stroke-dasharray="1.2 1.4" shape-rendering="crispEdges"/>
<line x1="586.50" y1="262.00" x2="586.50" y2="276.00" stroke="#aaaaaa" stroke-width="1" stroke-dasharray="1.2 1.4" shape-rendering="crispEdges"/>
<line x1="586.50" y1="269.50" x2="591.00" y2="269.50" stroke="#9a9a9a" stroke-width="1" shape-rendering="crispEdges"/>
<path d="M592.40,269.00 l-2.8,-1.26 v2.52z" fill="#333"/>
<text x="582.00" y="283.60" font-size="4.3" fill="#1a1a1a" font-family="Liberation Sans, sans-serif" textLength="8.0" lengthAdjust="spacingAndGlyphs" stroke="#1a1a1a" stroke-width="0.2">36,54</text>
<text x="589.00" y="265.00" font-size="4.3" fill="#1a1a1a" font-family="Liberation Sans, sans-serif" textLength="9.0" lengthAdjust="spacingAndGlyphs" stroke="#1a1a1a" stroke-width="0.2">1,9+j2</text>
<line x1="538.00" y1="298.50" x2="557.00" y2="298.50" stroke="#9a9a9a" stroke-width="1" shape-rendering="crispEdges"/>
<rect x="557.00" y="294.50" width="5.50" height="7.80" rx="0" fill="#fff" stroke="#9a9a9a" stroke-width="1.0"/>
<line x1="562.50" y1="298.50" x2="577.00" y2="298.50" stroke="#9a9a9a" stroke-width="1" shape-rendering="crispEdges"/>
<text x="533.00" y="305.60" font-size="4.3" fill="#1a1a1a" font-family="Liberation Sans, sans-serif" textLength="9.0" lengthAdjust="spacingAndGlyphs" stroke="#1a1a1a" stroke-width="0.2">35,47</text>
<text x="558.00" y="305.60" font-size="4.3" fill="#1a1a1a" font-family="Liberation Sans, sans-serif" textLength="8.0" lengthAdjust="spacingAndGlyphs" stroke="#1a1a1a" stroke-width="0.2">35,47</text>
<text x="520.90" y="330.00" font-size="3.1159999999999997" fill="#1a1a1a" font-family="Liberation Sans, sans-serif" textLength="27.0" lengthAdjust="spacingAndGlyphs" transform="rotate(-90 520.90 330.00)" stroke="#1a1a1a" stroke-width="0.14">40,7+j14,5→</text>
<rect x="524.40" y="318.00" width="2.00" height="5.00" rx="0" fill="#fff" stroke="#999" stroke-width="0.7"/>
<text x="524.40" y="316.00" font-size="3.4" fill="#1a1a1a" font-family="Liberation Sans, sans-serif" transform="rotate(-90 524.40 316.00)" stroke="#1a1a1a" stroke-width="0.14">→</text>
<text x="524.00" y="346.40" font-size="4.2" fill="#1a1a1a" font-family="Liberation Sans, sans-serif" textLength="14.0" lengthAdjust="spacingAndGlyphs" font-weight="bold" stroke="#1a1a1a" stroke-width="0.2">Чикчинская</text>
<polyline points="361.30,298.20 362.10,298.95 360.50,300.45 362.10,301.95 360.50,303.45 362.10,304.95 360.50,306.45 362.10,307.95 360.50,309.45 362.10,310.95 360.50,312.45 362.10,313.95 360.50,315.45 362.10,316.95 360.50,318.45 362.10,319.95 360.50,321.45 362.10,322.95 360.50,324.45 362.10,325.95 360.50,327.45 361.30,328.00" fill="none" stroke="#939393" stroke-width="0.95"/>
<line x1="321.50" y1="320.50" x2="321.50" y2="380.00" stroke="#9a9a9a" stroke-width="1" shape-rendering="crispEdges"/>
<line x1="326.80" y1="320.50" x2="346.40" y2="320.50" stroke="#9a9a9a" stroke-width="1" shape-rendering="crispEdges"/>
<rect x="346.40" y="316.90" width="5.20" height="7.60" rx="0" fill="#fff" stroke="#9a9a9a" stroke-width="1.0"/>
<line x1="351.60" y1="320.50" x2="365.40" y2="320.50" stroke="#9a9a9a" stroke-width="1" shape-rendering="crispEdges"/>
<text x="326.00" y="318.60" font-size="4.3" fill="#1a1a1a" font-family="Liberation Sans, sans-serif" textLength="9.0" lengthAdjust="spacingAndGlyphs" stroke="#1a1a1a" stroke-width="0.2">35,62</text>
<text x="347.00" y="314.20" font-size="4.3" fill="#1a1a1a" font-family="Liberation Sans, sans-serif" textLength="10.0" lengthAdjust="spacingAndGlyphs" stroke="#1a1a1a" stroke-width="0.2">36,33</text>
<rect x="333.40" y="328.00" width="6.00" height="7.80" rx="2" fill="#fff" stroke="#8c8c8c" stroke-width="1.0"/>
<path d="M333.40,334.80 A3.00,6.2 0 0 0 339.40,334.80" fill="none" stroke="#aaaaaa" stroke-width="0.9" stroke-dasharray="1.4 1"/>
<rect x="358.30" y="328.00" width="6.00" height="7.80" rx="2" fill="#fff" stroke="#8c8c8c" stroke-width="1.0"/>
<path d="M358.30,334.80 A3.00,6.2 0 0 0 364.30,334.80" fill="none" stroke="#aaaaaa" stroke-width="0.9" stroke-dasharray="1.4 1"/>
<line x1="336.50" y1="341.00" x2="336.50" y2="350.00" stroke="#aaaaaa" stroke-width="1" stroke-dasharray="1.2 1.4" shape-rendering="crispEdges"/>
<line x1="361.50" y1="341.00" x2="361.50" y2="350.00" stroke="#aaaaaa" stroke-width="1" stroke-dasharray="1.2 1.4" shape-rendering="crispEdges"/>
<text x="344.10" y="357.00" font-size="3.28" fill="#1a1a1a" font-family="Liberation Sans, sans-serif" textLength="39.0" lengthAdjust="spacingAndGlyphs" transform="rotate(-90 344.10 357.00)" stroke="#1a1a1a" stroke-width="0.14">Автодинам ТЭЦ 1</text>
<text x="370.30" y="345.00" font-size="3.28" fill="#1a1a1a" font-family="Liberation Sans, sans-serif" textLength="43.0" lengthAdjust="spacingAndGlyphs" transform="rotate(-90 370.30 345.00)" stroke="#1a1a1a" stroke-width="0.14">Автодинамич ТЭЦ 2</text>
<line x1="326.00" y1="350.00" x2="341.40" y2="350.00" stroke="#9a9a9a" stroke-width="1.3"/>
<line x1="356.00" y1="350.00" x2="371.00" y2="350.00" stroke="#9a9a9a" stroke-width="1.3"/>
<text x="324.00" y="348.00" font-size="4.3" fill="#1a1a1a" font-family="Liberation Sans, sans-serif" textLength="7.0" lengthAdjust="spacingAndGlyphs" stroke="#1a1a1a" stroke-width="0.2">6,24</text>
<text x="352.00" y="348.00" font-size="4.3" fill="#1a1a1a" font-family="Liberation Sans, sans-serif" textLength="6.0" lengthAdjust="spacingAndGlyphs" stroke="#1a1a1a" stroke-width="0.2">6,19</text>
<line x1="331.50" y1="350.00" x2="331.50" y2="357.00" stroke="#9a9a9a" stroke-width="1" shape-rendering="crispEdges"/>
<path d="M331.50,358.60 l-1.26,-2.8 h2.52z" fill="#777"/>
<line x1="365.50" y1="350.00" x2="365.50" y2="357.00" stroke="#9a9a9a" stroke-width="1" shape-rendering="crispEdges"/>
<path d="M365.80,358.60 l-1.26,-2.8 h2.52z" fill="#777"/>
<text x="323.00" y="362.60" font-size="4.3" fill="#1a1a1a" font-family="Liberation Sans, sans-serif" textLength="10.0" lengthAdjust="spacingAndGlyphs" stroke="#1a1a1a" stroke-width="0.2">13+j5,5</text>
<text x="363.00" y="362.60" font-size="4.3" fill="#1a1a1a" font-family="Liberation Sans, sans-serif" textLength="9.0" lengthAdjust="spacingAndGlyphs" stroke="#1a1a1a" stroke-width="0.2">13+j4,1</text>
<polyline points="311.60,320.70 312.40,321.45 310.80,322.95 312.40,324.45 310.80,325.95 312.40,327.45 310.80,328.95 312.40,330.45 310.80,331.95 312.40,333.45 310.80,334.95 312.40,336.45 310.80,337.95 312.40,339.45 310.80,340.95 312.40,342.45 310.80,343.95 312.40,345.45 310.80,346.95 312.40,348.45 310.80,349.95 312.40,351.45 310.80,352.95 312.40,354.45 310.80,355.95 312.40,357.45 310.80,358.95 312.40,360.45 310.80,361.95 312.40,363.45 310.80,364.95 312.40,366.45 310.80,367.95 312.40,369.45 310.80,370.95 312.40,372.45 310.80,373.95 312.40,375.45 310.80,376.95 312.40,378.45 310.80,379.95 312.40,381.45 310.80,382.95 312.40,384.45 310.80,385.95 312.40,387.45 310.80,388.95 312.40,390.45 310.80,391.95 312.40,393.45 310.80,394.95 312.40,396.45 310.80,397.95 312.40,399.45 310.80,400.95 312.40,402.45 310.80,403.95 312.40,405.45 310.80,406.95 312.40,408.45 310.80,409.95 312.40,411.45 310.80,412.95 312.40,414.45 310.80,415.95 312.40,417.45 310.80,418.95 312.40,420.45 310.80,421.95 312.40,423.45 311.60,423.50" fill="none" stroke="#939393" stroke-width="0.95"/>
<text x="310.10" y="360.00" font-size="3.1159999999999997" fill="#1a1a1a" font-family="Liberation Sans, sans-serif" textLength="25.0" lengthAdjust="spacingAndGlyphs" transform="rotate(-90 310.10 360.00)" stroke="#1a1a1a" stroke-width="0.14">15,7+j2,2→</text>
<rect x="318.60" y="327.00" width="2.40" height="9.40" rx="1" fill="#fff" stroke="#999" stroke-width="0.8"/>
<line x1="317.40" y1="372.00" x2="326.00" y2="372.00" stroke="#9a9a9a" stroke-width="1.3"/>
<line x1="332.30" y1="372.00" x2="341.00" y2="372.00" stroke="#9a9a9a" stroke-width="1.3"/>
<text x="313.00" y="371.00" font-size="4.3" fill="#1a1a1a" font-family="Liberation Sans, sans-serif" textLength="6.0" lengthAdjust="spacingAndGlyphs" stroke="#1a1a1a" stroke-width="0.2">10,5</text>
<text x="328.00" y="371.00" font-size="4.3" fill="#1a1a1a" font-family="Liberation Sans, sans-serif" textLength="6.0" lengthAdjust="spacingAndGlyphs" stroke="#1a1a1a" stroke-width="0.2">4,47</text>
<rect x="318.80" y="380.20" width="5.60" height="7.40" rx="2" fill="#fff" stroke="#8c8c8c" stroke-width="1.0"/>
<path d="M318.80,386.60 A2.80,6.2 0 0 0 324.40,386.60" fill="none" stroke="#aaaaaa" stroke-width="0.9" stroke-dasharray="1.4 1"/>
<rect x="333.60" y="380.20" width="5.60" height="7.40" rx="2" fill="#fff" stroke="#8c8c8c" stroke-width="1.0"/>
<path d="M333.60,386.60 A2.80,6.2 0 0 0 339.20,386.60" fill="none" stroke="#aaaaaa" stroke-width="0.9" stroke-dasharray="1.4 1"/>
<line x1="321.50" y1="393.00" x2="321.50" y2="401.50" stroke="#aaaaaa" stroke-width="1" stroke-dasharray="1.2 1.4" shape-rendering="crispEdges"/>
<line x1="336.50" y1="393.00" x2="336.50" y2="401.50" stroke="#aaaaaa" stroke-width="1" stroke-dasharray="1.2 1.4" shape-rendering="crispEdges"/>
<text x="318.10" y="397.00" font-size="2.952" fill="#1a1a1a" font-family="Liberation Sans, sans-serif" textLength="14.0" lengthAdjust="spacingAndGlyphs" transform="rotate(-90 318.10 397.00)" stroke="#1a1a1a" stroke-width="0.14">Комисс 2</text>
<text x="332.30" y="396.00" font-size="2.952" fill="#1a1a1a" font-family="Liberation Sans, sans-serif" textLength="16.0" lengthAdjust="spacingAndGlyphs" transform="rotate(-90 332.30 396.00)" stroke="#1a1a1a" stroke-width="0.14">Комисс 1</text>
<line x1="316.50" y1="401.50" x2="325.60" y2="401.50" stroke="#9a9a9a" stroke-width="1" shape-rendering="crispEdges"/>
<line x1="331.50" y1="401.50" x2="340.60" y2="401.50" stroke="#9a9a9a" stroke-width="1" shape-rendering="crispEdges"/>
<text x="313.00" y="405.60" font-size="4.3" fill="#1a1a1a" font-family="Liberation Sans, sans-serif" textLength="6.0" lengthAdjust="spacingAndGlyphs" stroke="#1a1a1a" stroke-width="0.2">10,5</text>
<text x="329.00" y="406.00" font-size="4.3" fill="#1a1a1a" font-family="Liberation Sans, sans-serif" textLength="6.0" lengthAdjust="spacingAndGlyphs" stroke="#1a1a1a" stroke-width="0.2">6,44</text>
<line x1="321.50" y1="401.50" x2="321.50" y2="406.50" stroke="#9a9a9a" stroke-width="1" shape-rendering="crispEdges"/>
<path d="M321.60,408.00 l-1.26,-2.8 h2.52z" fill="#777"/>
<line x1="336.50" y1="401.50" x2="336.50" y2="406.50" stroke="#9a9a9a" stroke-width="1" shape-rendering="crispEdges"/>
<path d="M336.40,408.00 l-1.26,-2.8 h2.52z" fill="#777"/>
<text x="330.00" y="413.60" font-size="4.3" fill="#1a1a1a" font-family="Liberation Sans, sans-serif" textLength="8.0" lengthAdjust="spacingAndGlyphs" stroke="#1a1a1a" stroke-width="0.2">10+j6</text>
<line x1="311.60" y1="423.50" x2="336.50" y2="423.50" stroke="#9a9a9a" stroke-width="1" shape-rendering="crispEdges"/>
<line x1="336.50" y1="423.50" x2="336.50" y2="514.60" stroke="#9a9a9a" stroke-width="1" shape-rendering="crispEdges"/>
<line x1="351.50" y1="364.60" x2="351.50" y2="379.60" stroke="#9a9a9a" stroke-width="1" shape-rendering="crispEdges"/>
<rect x="350.80" y="367.00" width="2.60" height="6.60" rx="0" fill="#fff" stroke="#888" stroke-width="0.8"/>
<line x1="351.70" y1="379.50" x2="360.00" y2="379.50" stroke="#9a9a9a" stroke-width="1" shape-rendering="crispEdges"/>
<path d="M361.60,379.60 l-2.8,-1.26 v2.52z" fill="#888"/>
<text x="358.00" y="373.00" font-size="4.4" fill="#1a1a1a" font-family="Liberation Sans, sans-serif" textLength="17.0" lengthAdjust="spacingAndGlyphs" stroke="#1a1a1a" stroke-width="0.2">С.Алена 2</text>
<text x="360.00" y="381.00" font-size="4.3" fill="#1a1a1a" font-family="Liberation Sans, sans-serif" textLength="15.0" lengthAdjust="spacingAndGlyphs" stroke="#1a1a1a" stroke-width="0.2">←0,2+j0,6</text>
<polyline points="356.30,372.00 357.10,372.75 355.50,374.25 357.10,375.75 355.50,377.25 357.10,378.75 355.50,380.25 357.10,381.75 355.50,383.25 357.10,384.75 355.50,386.25 357.10,387.75 355.50,389.25 356.30,390.70" fill="none" stroke="#939393" stroke-width="0.95"/>
<rect x="353.80" y="390.70" width="5.00" height="7.30" rx="0" fill="#fff" stroke="#9a9a9a" stroke-width="1.0"/>
<polyline points="356.30,398.00 357.10,398.75 355.50,400.25 357.10,401.75 355.50,403.25 357.10,404.75 355.50,406.25 357.10,407.75 356.30,409.00" fill="none" stroke="#939393" stroke-width="0.95"/>
<text x="359.00" y="389.60" font-size="4.3" fill="#1a1a1a" font-family="Liberation Sans, sans-serif" textLength="7.0" lengthAdjust="spacingAndGlyphs" stroke="#1a1a1a" stroke-width="0.2">10,43</text>
<text x="349.50" y="388.00" font-size="3.1159999999999997" fill="#1a1a1a" font-family="Liberation Sans, sans-serif" textLength="18.0" lengthAdjust="spacingAndGlyphs" transform="rotate(-90 349.50 388.00)" stroke="#1a1a1a" stroke-width="0.14">←1,4+j0,9</text>
<line x1="341.50" y1="408.00" x2="358.00" y2="408.00" stroke="#9a9a9a" stroke-width="2" shape-rendering="crispEdges"/>
<path d="M361.80,408.40 l-2.8,-1.26 v2.52z" fill="#888"/>
<text x="363.00" y="410.40" font-size="4.3" fill="#1a1a1a" font-family="Liberation Sans, sans-serif" textLength="10.0" lengthAdjust="spacingAndGlyphs" stroke="#1a1a1a" stroke-width="0.2">0+j2,4</text>
<text x="362.00" y="403.00" font-size="4.4" fill="#1a1a1a" font-family="Liberation Sans, sans-serif" textLength="14.0" lengthAdjust="spacingAndGlyphs" stroke="#1a1a1a" stroke-width="0.2">С.Алена 1</text>
<text x="343.00" y="407.40" font-size="4.3" fill="#1a1a1a" font-family="Liberation Sans, sans-serif" textLength="11.0" lengthAdjust="spacingAndGlyphs" stroke="#1a1a1a" stroke-width="0.2">1,4+j0,7</text>
<text x="344.00" y="414.00" font-size="3.6" fill="#666" font-family="Liberation Sans, sans-serif" textLength="6.0" lengthAdjust="spacingAndGlyphs" stroke="#666" stroke-width="0.2">◁ 7</text>
<polyline points="356.30,409.00 357.50,413.00 360.00,417.00" fill="none" stroke="#aaaaaa" stroke-width="0.9" stroke-dasharray="1.2 1.2"/>
<text x="358.00" y="420.00" font-size="3.6" fill="#1a1a1a" font-family="Liberation Sans, sans-serif" textLength="5.0" lengthAdjust="spacingAndGlyphs" stroke="#1a1a1a" stroke-width="0.2">мм</text>
<line x1="341.50" y1="408.40" x2="341.50" y2="514.60" stroke="#9a9a9a" stroke-width="1" shape-rendering="crispEdges"/>
<line x1="341.50" y1="423.50" x2="385.60" y2="423.50" stroke="#9a9a9a" stroke-width="1" shape-rendering="crispEdges"/>
<line x1="385.50" y1="423.50" x2="385.50" y2="446.00" stroke="#9a9a9a" stroke-width="1" shape-rendering="crispEdges"/>
<text x="368.00" y="422.40" font-size="4.3" fill="#1a1a1a" font-family="Liberation Sans, sans-serif" textLength="14.0" lengthAdjust="spacingAndGlyphs" stroke="#1a1a1a" stroke-width="0.2">4,8+j2,5→</text>
<text x="372.00" y="428.00" font-size="4" fill="#1a1a1a" font-family="Liberation Sans, sans-serif" textLength="5.0" lengthAdjust="spacingAndGlyphs" stroke="#1a1a1a" stroke-width="0.2">2→</text>
<line x1="336.50" y1="431.00" x2="370.60" y2="431.00" stroke="#9a9a9a" stroke-width="2" shape-rendering="crispEdges"/>
<line x1="370.50" y1="431.00" x2="370.50" y2="446.00" stroke="#9a9a9a" stroke-width="1" shape-rendering="crispEdges"/>
<text x="343.00" y="430.00" font-size="4.3" fill="#1a1a1a" font-family="Liberation Sans, sans-serif" textLength="14.0" lengthAdjust="spacingAndGlyphs" stroke="#1a1a1a" stroke-width="0.2">4,8+j2,5→</text>
<text x="348.00" y="436.00" font-size="4" fill="#1a1a1a" font-family="Liberation Sans, sans-serif" textLength="5.0" lengthAdjust="spacingAndGlyphs" stroke="#1a1a1a" stroke-width="0.2">2→</text>
<line x1="356.30" y1="438.50" x2="375.40" y2="438.50" stroke="#9a9a9a" stroke-width="1" shape-rendering="crispEdges"/>
<line x1="380.90" y1="438.50" x2="394.00" y2="438.50" stroke="#9a9a9a" stroke-width="1" shape-rendering="crispEdges"/>
<text x="360.00" y="436.60" font-size="4.3" fill="#1a1a1a" font-family="Liberation Sans, sans-serif" textLength="7.0" lengthAdjust="spacingAndGlyphs" stroke="#1a1a1a" stroke-width="0.2">33,71</text>
<text x="388.00" y="437.00" font-size="4.3" fill="#1a1a1a" font-family="Liberation Sans, sans-serif" textLength="8.0" lengthAdjust="spacingAndGlyphs" stroke="#1a1a1a" stroke-width="0.2">34,57</text>
<line x1="370.50" y1="438.30" x2="370.50" y2="496.70" stroke="#aaaaaa" stroke-width="1" shape-rendering="crispEdges"/>
<rect x="368.10" y="446.00" width="5.00" height="14.00" rx="2.50" fill="#fff"/>
<path d="M368.10,451.50 V448.50 A2.50,2.50 0 0 1 373.10,448.50 V451.50" fill="none" stroke="#9c9c9c" stroke-width="0.9"/>
<rect x="367.80" y="451.30" width="5.60" height="3.2" fill="#a6a6a6"/>
<path d="M368.10,454.50 V457.20 Q368.10,459.20 370.60,460.00 Q373.10,459.20 373.10,457.20 V454.50" fill="none" stroke="#8c8c8c" stroke-width="1"/>
<rect x="368.10" y="475.60" width="5.00" height="14.20" rx="2.50" fill="#fff"/>
<path d="M368.10,481.20 V478.10 A2.50,2.50 0 0 1 373.10,478.10 V481.20" fill="none" stroke="#9c9c9c" stroke-width="0.9"/>
<rect x="367.80" y="481.00" width="5.60" height="3.2" fill="#a6a6a6"/>
<path d="M368.10,484.20 V487.00 Q368.10,489.00 370.60,489.80 Q373.10,489.00 373.10,487.00 V484.20" fill="none" stroke="#8c8c8c" stroke-width="1"/>
<line x1="385.50" y1="438.30" x2="385.50" y2="496.70" stroke="#aaaaaa" stroke-width="1" shape-rendering="crispEdges"/>
<rect x="383.10" y="446.00" width="5.00" height="14.00" rx="2.50" fill="#fff"/>
<path d="M383.10,451.50 V448.50 A2.50,2.50 0 0 1 388.10,448.50 V451.50" fill="none" stroke="#9c9c9c" stroke-width="0.9"/>
<rect x="382.80" y="451.30" width="5.60" height="3.2" fill="#a6a6a6"/>
<path d="M383.10,454.50 V457.20 Q383.10,459.20 385.60,460.00 Q388.10,459.20 388.10,457.20 V454.50" fill="none" stroke="#8c8c8c" stroke-width="1"/>
<rect x="383.10" y="475.60" width="5.00" height="14.20" rx="2.50" fill="#fff"/>
<path d="M383.10,481.20 V478.10 A2.50,2.50 0 0 1 388.10,478.10 V481.20" fill="none" stroke="#9c9c9c" stroke-width="0.9"/>
<rect x="382.80" y="481.00" width="5.60" height="3.2" fill="#a6a6a6"/>
<path d="M383.10,484.20 V487.00 Q383.10,489.00 385.60,489.80 Q388.10,489.00 388.10,487.00 V484.20" fill="none" stroke="#8c8c8c" stroke-width="1"/>
<text x="367.10" y="465.00" font-size="3.1159999999999997" fill="#1a1a1a" font-family="Liberation Sans, sans-serif" textLength="20.0" lengthAdjust="spacingAndGlyphs" transform="rotate(-90 367.10 465.00)" stroke="#1a1a1a" stroke-width="0.14">←4,6+j2,6</text>
<text x="381.70" y="465.00" font-size="3.1159999999999997" fill="#1a1a1a" font-family="Liberation Sans, sans-serif" textLength="23.0" lengthAdjust="spacingAndGlyphs" transform="rotate(-90 381.70 465.00)" stroke="#1a1a1a" stroke-width="0.14">←4,6+j2,6</text>
<text x="367.10" y="495.00" font-size="3.1159999999999997" fill="#1a1a1a" font-family="Liberation Sans, sans-serif" textLength="22.0" lengthAdjust="spacingAndGlyphs" transform="rotate(-90 367.10 495.00)" stroke="#1a1a1a" stroke-width="0.14">←4,8+j2,5</text>
<text x="381.70" y="492.00" font-size="3.1159999999999997" fill="#1a1a1a" font-family="Liberation Sans, sans-serif" textLength="22.0" lengthAdjust="spacingAndGlyphs" transform="rotate(-90 381.70 492.00)" stroke="#1a1a1a" stroke-width="0.14">←4,8+j2,6</text>
<text x="343.00" y="458.60" font-size="4.4" fill="#1a1a1a" font-family="Liberation Sans, sans-serif" textLength="18.0" lengthAdjust="spacingAndGlyphs" stroke="#1a1a1a" stroke-width="0.2">Н.Демьян 2</text>
<text x="391.00" y="459.60" font-size="4.4" fill="#1a1a1a" font-family="Liberation Sans, sans-serif" textLength="17.0" lengthAdjust="spacingAndGlyphs" stroke="#1a1a1a" stroke-width="0.2">Н.Демьян 1</text>
<ellipse cx="360.70" cy="468.10" rx="3.1" ry="3.1" fill="#fff" stroke="#8c8c8c" stroke-width="1.0"/>
<ellipse cx="363.70" cy="468.10" rx="3.1" ry="3.1" fill="none" stroke="#8c8c8c" stroke-width="1.0"/>
<line x1="366.70" y1="468.00" x2="371.00" y2="468.00" stroke="#9a9a9a" stroke-width="2" shape-rendering="crispEdges"/>
<line x1="351.50" y1="460.70" x2="351.50" y2="474.80" stroke="#9a9a9a" stroke-width="1" shape-rendering="crispEdges"/>
<text x="348.00" y="480.60" font-size="4.3" fill="#1a1a1a" font-family="Liberation Sans, sans-serif" textLength="6.0" lengthAdjust="spacingAndGlyphs" stroke="#1a1a1a" stroke-width="0.2">4,27</text>
<line x1="385.60" y1="468.00" x2="390.40" y2="468.00" stroke="#9a9a9a" stroke-width="2" shape-rendering="crispEdges"/>
<ellipse cx="393.80" cy="468.10" rx="3.1" ry="3.1" fill="#fff" stroke="#8c8c8c" stroke-width="1.0"/>
<ellipse cx="396.80" cy="468.10" rx="3.1" ry="3.1" fill="none" stroke="#8c8c8c" stroke-width="1.0"/>
<line x1="400.00" y1="468.50" x2="405.00" y2="468.50" stroke="#aaaaaa" stroke-width="1" stroke-dasharray="1.2 1.4" shape-rendering="crispEdges"/>
<line x1="405.50" y1="460.70" x2="405.50" y2="476.00" stroke="#9a9a9a" stroke-width="1" shape-rendering="crispEdges"/>
<line x1="405.20" y1="468.50" x2="408.50" y2="468.50" stroke="#9a9a9a" stroke-width="1" shape-rendering="crispEdges"/>
<path d="M409.60,468.10 l-2.8,-1.26 v2.52z" fill="#333"/>
<text x="402.00" y="480.00" font-size="4" fill="#1a1a1a" font-family="Liberation Sans, sans-serif" textLength="4.0" lengthAdjust="spacingAndGlyphs" stroke="#1a1a1a" stroke-width="0.2">4→</text>
<text x="412.50" y="478.00" font-size="3.1159999999999997" fill="#1a1a1a" font-family="Liberation Sans, sans-serif" textLength="15.0" lengthAdjust="spacingAndGlyphs" transform="rotate(-90 412.50 478.00)" stroke="#1a1a1a" stroke-width="0.14">4,6+j2,6</text>
<line x1="360.50" y1="496.50" x2="375.40" y2="496.50" stroke="#9a9a9a" stroke-width="1" shape-rendering="crispEdges"/>
<rect x="375.40" y="493.30" width="5.60" height="8.00" rx="0" fill="#fff" stroke="#9a9a9a" stroke-width="1.0"/>
<line x1="381.00" y1="496.50" x2="396.00" y2="496.50" stroke="#9a9a9a" stroke-width="1" shape-rendering="crispEdges"/>
<text x="355.00" y="495.40" font-size="4.3" fill="#1a1a1a" font-family="Liberation Sans, sans-serif" textLength="9.0" lengthAdjust="spacingAndGlyphs" stroke="#1a1a1a" stroke-width="0.2">33,32</text>
<text x="391.00" y="495.40" font-size="4.3" fill="#1a1a1a" font-family="Liberation Sans, sans-serif" textLength="9.0" lengthAdjust="spacingAndGlyphs" stroke="#1a1a1a" stroke-width="0.2">36,50</text>
<text x="334.10" y="510.00" font-size="3.1159999999999997" fill="#1a1a1a" font-family="Liberation Sans, sans-serif" textLength="30.0" lengthAdjust="spacingAndGlyphs" transform="rotate(-90 334.10 510.00)" stroke="#1a1a1a" stroke-width="0.14">Т6,4+j2,4+j4→</text>
<text x="340.30" y="498.00" font-size="3.1159999999999997" fill="#1a1a1a" font-family="Liberation Sans, sans-serif" textLength="26.0" lengthAdjust="spacingAndGlyphs" transform="rotate(-90 340.30 498.00)" stroke="#1a1a1a" stroke-width="0.14">←4,6+j25,4→</text>
<text x="343.90" y="490.00" font-size="2.952" fill="#1a1a1a" font-family="Liberation Sans, sans-serif" textLength="12.0" lengthAdjust="spacingAndGlyphs" transform="rotate(-90 343.90 490.00)" stroke="#1a1a1a" stroke-width="0.14">57→</text>
<text x="319.00" y="530.20" font-size="4.6" fill="#1a1a1a" font-family="Liberation Sans, sans-serif" textLength="25.0" lengthAdjust="spacingAndGlyphs" stroke="#1a1a1a" stroke-width="0.2">Тоболэнерго</text>
<text x="207.20" y="375.00" font-size="3.1159999999999997" fill="#1a1a1a" font-family="Liberation Sans, sans-serif" textLength="22.0" lengthAdjust="spacingAndGlyphs" transform="rotate(-90 207.20 375.00)" stroke="#1a1a1a" stroke-width="0.14">88,6+j66,2</text>
<text x="212.50" y="367.00" font-size="2.952" fill="#888" font-family="Liberation Sans, sans-serif" textLength="12.0" lengthAdjust="spacingAndGlyphs" transform="rotate(-90 212.50 367.00)" stroke="#888" stroke-width="0.14">176→</text>
<text x="212.00" y="383.60" font-size="4.3" fill="#1a1a1a" font-family="Liberation Sans, sans-serif" textLength="14.0" lengthAdjust="spacingAndGlyphs" font-weight="bold" stroke="#1a1a1a" stroke-width="0.2">42+j29→</text>
<rect x="0" y="0" width="1" height="640" fill="#a2a2a2"/>
<rect x="904" y="0" width="1" height="640" fill="#9a9a9a"/>
<rect x="0" y="639" width="905" height="1" fill="#a8a8a8"/>
<rect x="0" y="0" width="905" height="1" fill="#444"/>
<rect x="903" y="638" width="2" height="2" fill="#555"/>
</svg>
</body></html>
